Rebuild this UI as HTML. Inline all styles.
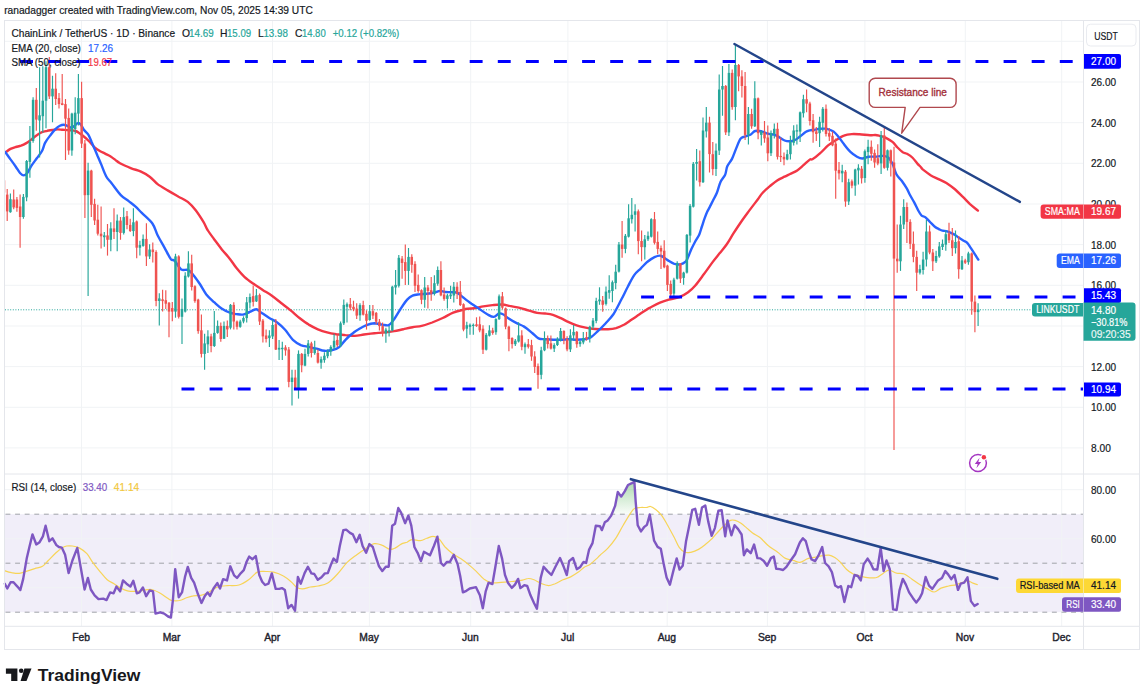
<!DOCTYPE html>
<html><head><meta charset="utf-8"><title>chart</title>
<style>
html,body{margin:0;padding:0;background:#fff}
body{width:1142px;height:699px;overflow:hidden;font-family:"Liberation Sans","DejaVu Sans",sans-serif}
svg{display:block}
</style></head><body>
<svg width="1142" height="699" viewBox="0 0 1142 699" font-family="'Liberation Sans', 'DejaVu Sans', sans-serif">
<defs><linearGradient id="ob" x1="0" y1="0" x2="0" y2="1"><stop offset="0" stop-color="#4caf50" stop-opacity="0.45"/><stop offset="1" stop-color="#4caf50" stop-opacity="0.03"/></linearGradient></defs>
<rect width="1142" height="699" fill="#fff"/>
<rect x="5" y="514.2" width="1078.5" height="98.0" fill="#f1eef9"/>
<path d="M5 447.9H1083.5" stroke="#f1f3f5" stroke-width="1"/>
<path d="M5 407.3H1083.5" stroke="#f1f3f5" stroke-width="1"/>
<path d="M5 366.6H1083.5" stroke="#f1f3f5" stroke-width="1"/>
<path d="M5 326.0H1083.5" stroke="#f1f3f5" stroke-width="1"/>
<path d="M5 285.3H1083.5" stroke="#f1f3f5" stroke-width="1"/>
<path d="M5 244.6H1083.5" stroke="#f1f3f5" stroke-width="1"/>
<path d="M5 204.0H1083.5" stroke="#f1f3f5" stroke-width="1"/>
<path d="M5 163.3H1083.5" stroke="#f1f3f5" stroke-width="1"/>
<path d="M5 122.7H1083.5" stroke="#f1f3f5" stroke-width="1"/>
<path d="M5 82.0H1083.5" stroke="#f1f3f5" stroke-width="1"/>
<path d="M5 41.3H1083.5" stroke="#f1f3f5" stroke-width="1"/>
<path d="M5 489.7H1083.5" stroke="#f1f3f5" stroke-width="1"/>
<path d="M5 538.7H1083.5" stroke="#f1f3f5" stroke-width="1"/>
<path d="M5 587.7H1083.5" stroke="#f1f3f5" stroke-width="1"/>
<path d="M81.5 21V626" stroke="#f1f3f5" stroke-width="1"/>
<path d="M171.9 21V626" stroke="#f1f3f5" stroke-width="1"/>
<path d="M272.5 21V626" stroke="#f1f3f5" stroke-width="1"/>
<path d="M369.4 21V626" stroke="#f1f3f5" stroke-width="1"/>
<path d="M470.7 21V626" stroke="#f1f3f5" stroke-width="1"/>
<path d="M567.9 21V626" stroke="#f1f3f5" stroke-width="1"/>
<path d="M667.2 21V626" stroke="#f1f3f5" stroke-width="1"/>
<path d="M767.4 21V626" stroke="#f1f3f5" stroke-width="1"/>
<path d="M864.9 21V626" stroke="#f1f3f5" stroke-width="1"/>
<path d="M965.3 21V626" stroke="#f1f3f5" stroke-width="1"/>
<path d="M1061.7 21V626" stroke="#f1f3f5" stroke-width="1"/>
<path d="M5.5 514.2H1083.5" stroke="#a0a2a8" stroke-width="1" stroke-dasharray="4.9 4.7"/>
<path d="M5.5 563.2H1083.5" stroke="#a0a2a8" stroke-width="1" stroke-dasharray="4.9 4.7"/>
<path d="M5.5 612.2H1083.5" stroke="#a0a2a8" stroke-width="1" stroke-dasharray="4.9 4.7"/>
<path d="M5 309.8H1032" stroke="#26a69a" stroke-width="1" stroke-dasharray="1 1.6"/>
<path d="M5.2 152.6C6.1 152.0 8.7 149.8 10.5 148.9C12.3 148.0 14.1 147.5 15.8 147.0C17.6 146.5 19.2 146.3 21.0 145.7C22.8 145.0 24.6 144.1 26.3 143.1C28.1 142.1 29.8 140.7 31.5 139.4C33.2 138.1 35.0 136.4 36.8 135.2C38.5 134.0 40.2 132.8 42.0 132.1C43.8 131.4 45.5 131.2 47.3 130.8C49.0 130.5 50.8 130.2 52.5 130.0C54.2 129.8 56.0 129.4 57.8 129.4C59.5 129.4 61.1 129.7 63.0 129.8C64.9 129.9 67.3 130.0 69.4 130.2C71.5 130.4 74.0 130.4 75.7 131.0C77.5 131.6 78.5 132.6 79.9 133.6C81.3 134.6 82.5 135.5 84.1 136.8C85.7 138.1 87.5 139.8 89.3 141.5C91.0 143.2 92.8 145.7 94.6 147.3C96.3 148.9 98.0 149.9 99.8 151.0C101.5 152.1 103.3 152.7 105.1 153.6C106.8 154.5 108.5 155.1 110.3 156.2C112.0 157.3 114.0 158.9 115.6 160.1C117.2 161.3 117.4 161.8 120.0 163.2C122.6 164.6 127.9 166.9 131.3 168.3C134.8 169.7 137.5 170.0 140.5 171.4C143.6 172.8 146.9 174.6 149.7 176.7C152.6 178.8 154.5 181.7 157.6 184.1C160.7 186.4 164.6 188.5 168.1 190.6C171.6 192.7 175.3 194.8 178.6 196.7C181.9 198.5 185.0 199.6 187.8 201.9C190.7 204.2 193.1 207.0 195.7 210.3C198.3 213.7 201.6 218.9 203.6 222.1C205.6 225.4 205.8 227.2 207.6 230.0C209.3 232.8 211.7 235.9 214.1 239.2C216.6 242.5 219.4 246.4 222.0 249.7C224.7 253.0 227.5 255.8 229.9 258.9C232.3 262.0 234.1 265.1 236.5 268.1C238.9 271.1 241.5 274.1 244.4 276.8C247.2 279.4 250.5 281.7 253.5 283.8C256.6 286.0 259.7 287.9 262.7 289.9C265.8 291.9 268.9 293.5 271.9 295.7C275.0 297.9 278.1 300.6 281.1 303.0C284.2 305.4 287.3 307.6 290.3 310.1C293.4 312.6 296.5 315.6 299.5 318.0C302.6 320.4 305.6 322.7 308.7 324.6C311.8 326.4 314.8 328.0 317.9 329.3C321.0 330.6 324.0 331.6 327.1 332.4C330.2 333.3 333.2 333.8 336.3 334.3C339.4 334.7 342.4 334.8 345.5 335.1C348.5 335.3 351.6 335.9 354.7 335.9C357.7 335.8 360.6 335.0 363.9 334.5C367.2 334.1 370.9 333.6 374.4 333.2C377.9 332.9 381.6 332.8 384.9 332.4C388.2 332.1 391.0 331.7 394.1 331.1C397.1 330.6 400.2 329.9 403.3 329.3C406.3 328.6 409.4 327.8 412.5 327.2C415.5 326.6 418.4 326.7 421.7 325.9C424.9 325.1 428.7 323.8 432.2 322.5C435.7 321.1 439.2 319.6 442.7 318.0C446.2 316.4 449.7 314.1 453.2 312.7C456.7 311.3 461.7 310.2 463.7 309.6C465.7 309.0 463.2 309.2 465.0 309.0C466.7 308.8 471.1 308.7 474.1 308.2C477.2 307.8 480.3 306.9 483.3 306.4C486.4 305.9 489.5 305.4 492.5 305.1C495.6 304.8 498.9 304.4 501.7 304.5C504.6 304.7 506.8 305.3 509.6 305.9C512.5 306.4 515.7 307.0 518.8 307.7C521.9 308.4 524.9 309.4 528.0 310.3C531.1 311.2 534.3 312.4 537.2 312.9C540.0 313.5 542.4 313.2 545.1 313.5C547.7 313.8 550.3 314.0 552.9 314.8C555.6 315.6 558.2 317.0 560.8 318.2C563.5 319.4 566.1 321.0 568.7 322.1C571.3 323.3 574.0 324.4 576.6 325.3C579.2 326.2 581.8 326.8 584.5 327.4C587.1 328.0 589.7 328.4 592.4 328.7C595.0 329.0 597.6 329.1 600.2 329.2C602.9 329.3 605.5 329.4 608.1 329.2C610.7 329.1 613.4 328.9 616.0 328.2C618.6 327.4 621.2 326.2 623.9 324.8C626.5 323.3 629.1 321.3 631.8 319.5C634.4 317.8 637.0 316.0 639.6 314.3C642.3 312.5 645.6 310.2 647.5 309.0C649.5 307.8 649.2 308.1 651.3 307.0C653.4 305.9 657.1 303.9 660.0 302.7C662.9 301.5 665.6 300.6 668.8 299.7C672.0 298.8 676.1 298.4 679.3 297.1C682.5 295.9 685.5 294.1 688.1 292.2C690.7 290.3 692.5 288.7 695.1 285.7C697.7 282.7 700.9 278.2 703.8 274.3C706.7 270.4 710.0 265.6 712.6 262.1C715.2 258.6 717.3 256.2 719.6 253.3C721.9 250.4 724.3 247.8 726.6 244.5C728.9 241.2 731.0 237.3 733.6 233.2C736.2 229.1 739.8 223.8 742.4 220.0C745.0 216.2 746.8 213.9 749.4 210.4C752.0 206.9 755.9 201.9 758.1 199.0C760.3 196.1 760.5 195.1 762.5 193.0C764.5 190.9 767.4 188.3 769.9 186.2C772.4 184.1 774.8 182.0 777.2 180.4C779.7 178.8 782.3 177.8 784.6 176.7C786.9 175.6 788.8 174.6 790.9 173.6C793.0 172.6 795.1 171.8 797.2 170.4C799.3 169.0 801.4 167.0 803.5 165.2C805.6 163.4 808.5 160.4 810.0 159.4C811.5 158.4 810.6 160.3 812.4 159.3C814.1 158.3 817.6 155.6 820.2 153.2C822.9 150.9 825.5 147.6 828.1 145.4C830.7 143.2 833.4 141.7 836.0 140.1C838.6 138.5 841.2 136.7 843.9 135.7C846.5 134.6 849.1 134.3 851.8 134.1C854.4 133.9 856.6 134.1 859.6 134.3C862.7 134.5 867.4 135.2 870.0 135.3C872.6 135.4 873.7 134.9 875.3 135.0C876.9 135.1 878.3 135.5 879.5 135.8C880.7 136.1 881.6 136.2 882.7 136.6C883.8 136.9 884.2 137.0 885.9 137.9C887.6 138.8 890.9 140.6 892.8 142.2C894.7 143.8 895.8 145.8 897.5 147.5C899.2 149.2 901.2 151.1 902.8 152.2C904.4 153.2 905.4 152.9 907.0 153.8C908.6 154.7 910.5 155.8 912.3 157.5C914.1 159.2 916.3 162.4 917.6 163.9C918.9 165.4 919.4 165.6 920.3 166.5C921.2 167.4 921.0 167.9 922.7 169.4C924.5 170.8 928.0 173.5 930.6 175.2C933.2 176.8 935.9 177.8 938.5 179.1C941.1 180.4 943.8 181.4 946.4 183.0C949.0 184.7 951.6 186.6 954.3 188.8C956.9 191.0 959.5 193.6 962.1 196.2C964.8 198.7 967.4 201.6 970.0 204.1C972.7 206.5 976.6 209.5 977.9 210.6" fill="none" stroke="#f23645" stroke-width="2.4" stroke-linejoin="round" stroke-linecap="round"/>
<path d="M5.2 152.0C6.1 153.2 8.7 157.0 10.5 159.4C12.3 161.8 14.2 164.4 15.8 166.7C17.4 169.0 18.7 171.6 20.0 173.0C21.3 174.4 22.4 175.4 23.6 175.4C24.8 175.4 26.0 174.6 27.3 173.0C28.6 171.4 29.9 168.1 31.5 165.7C33.1 163.2 35.0 160.8 36.8 158.3C38.5 155.9 40.6 153.6 42.0 151.0C43.4 148.4 43.8 145.2 45.2 142.6C46.6 140.0 48.6 137.5 50.4 135.2C52.1 132.9 54.1 130.5 55.7 128.9C57.3 127.3 58.6 126.5 59.9 125.8C61.2 125.1 62.4 124.7 63.6 124.7C64.8 124.7 65.9 125.3 67.2 125.8C68.5 126.3 70.3 127.7 71.5 127.7C72.7 127.7 73.5 126.6 74.6 125.8C75.6 125.0 76.8 123.3 77.8 123.1C78.8 122.9 79.9 123.5 80.9 124.7C82.0 125.9 82.9 128.3 84.1 130.0C85.3 131.7 87.1 132.8 88.3 134.7C89.5 136.6 90.4 139.1 91.4 141.5C92.5 143.9 93.5 146.5 94.6 148.9C95.6 151.3 96.7 153.8 97.7 156.2C98.8 158.6 99.5 160.3 100.9 163.6C102.3 166.9 104.3 173.0 106.1 176.2C107.8 179.4 108.9 179.9 111.4 183.0C113.9 186.1 117.9 192.1 120.8 195.1C123.7 198.1 126.3 199.2 128.7 201.1C131.1 203.0 133.1 204.4 135.3 206.4C137.5 208.4 139.0 210.1 141.8 212.9C144.7 215.8 149.7 219.7 152.4 223.5C155.0 227.2 155.6 231.3 157.6 235.3C159.6 239.2 162.0 243.2 164.2 247.1C166.4 251.0 169.0 256.6 170.7 258.9C172.5 261.2 172.9 259.0 174.7 260.8C176.4 262.5 179.0 267.9 181.2 269.4C183.4 271.0 185.9 269.1 187.9 269.9C189.9 270.8 191.2 272.3 193.1 274.7C195.1 277.0 197.5 280.6 199.7 283.8C201.9 287.1 203.9 291.3 206.3 294.4C208.7 297.4 211.5 299.8 214.1 302.2C216.8 304.6 219.4 307.1 222.0 308.8C224.7 310.6 227.5 311.9 229.9 312.7C232.3 313.6 234.3 313.7 236.5 314.1C238.7 314.4 240.9 314.9 243.0 314.6C245.2 314.2 247.4 312.8 249.6 312.0C251.8 311.1 254.2 309.2 256.2 309.3C258.1 309.5 259.2 311.3 261.4 312.7C263.6 314.2 266.7 316.4 269.3 318.0C271.9 319.6 274.6 320.5 277.2 322.5C279.8 324.4 282.4 326.9 285.1 329.8C287.7 332.7 290.3 337.3 292.9 339.8C295.6 342.3 298.2 343.9 300.8 345.1C303.5 346.2 306.1 346.3 308.7 346.9C311.3 347.5 314.0 348.1 316.6 348.7C319.2 349.4 321.8 350.6 324.5 350.8C327.1 351.0 329.9 350.6 332.4 350.0C334.8 349.5 336.7 349.1 338.9 347.4C341.1 345.7 343.3 342.1 345.5 339.8C347.7 337.5 349.9 335.5 352.1 333.8C354.2 332.0 356.2 330.7 358.6 329.3C361.0 327.8 363.9 326.1 366.5 325.1C369.1 324.1 371.8 323.3 374.4 323.2C377.0 323.2 379.9 324.3 382.3 324.6C384.7 324.9 386.9 326.0 388.8 325.1C390.8 324.2 392.1 322.0 394.1 319.3C396.0 316.6 398.5 312.1 400.6 308.8C402.8 305.5 405.2 301.8 407.2 299.6C409.2 297.4 410.5 296.5 412.5 295.7C414.4 294.8 416.6 294.7 419.0 294.4C421.4 294.0 424.3 294.1 426.9 293.8C429.5 293.5 432.6 293.0 434.8 292.5C437.0 292.0 438.3 291.0 440.0 290.9C441.8 290.9 443.3 291.8 445.3 292.0C447.3 292.2 449.9 292.1 451.9 292.3C453.8 292.4 455.1 291.8 457.1 292.7C459.0 293.6 461.2 295.9 463.6 297.7C466.0 299.6 468.9 301.9 471.5 303.8C474.1 305.6 476.8 307.3 479.4 309.0C482.0 310.8 484.9 312.9 487.3 314.3C489.7 315.6 491.9 317.0 493.8 316.9C495.8 316.8 497.6 313.9 499.1 313.5C500.6 313.0 501.5 313.5 503.0 314.3C504.6 315.1 506.1 316.8 508.3 318.2C510.5 319.6 513.5 321.5 516.2 322.9C518.8 324.3 521.4 325.0 524.1 326.6C526.7 328.2 529.5 330.7 531.9 332.7C534.3 334.6 536.3 337.3 538.5 338.4C540.7 339.5 542.7 339.0 545.1 339.2C547.5 339.4 550.3 339.7 552.9 339.7C555.6 339.8 558.2 339.8 560.8 339.7C563.5 339.7 566.1 339.2 568.7 339.2C571.3 339.2 574.0 339.7 576.6 339.7C579.2 339.7 582.1 339.7 584.5 339.2C586.9 338.8 588.8 338.4 591.0 337.1C593.2 335.8 595.2 333.6 597.6 331.3C600.0 329.1 602.9 326.3 605.5 323.5C608.1 320.6 610.7 318.2 613.4 314.3C616.0 310.3 618.8 304.4 621.2 299.8C623.7 295.2 625.6 290.8 627.8 286.7C630.0 282.5 632.2 277.9 634.4 274.9C636.6 271.8 638.8 270.5 640.9 268.3C643.1 266.1 645.3 263.6 647.5 261.7C649.7 259.9 651.9 258.3 654.1 257.3C656.3 256.3 658.5 255.2 660.6 255.7C662.8 256.1 665.0 258.6 667.2 259.9C669.4 261.2 671.6 262.8 673.8 263.6C676.0 264.3 678.4 264.7 680.3 264.4C682.3 264.0 684.4 262.8 685.6 261.7C686.8 260.7 686.7 260.1 687.7 258.0C688.7 255.9 690.2 251.8 691.4 249.1C692.6 246.4 693.8 244.1 695.1 241.7C696.4 239.2 698.2 236.9 699.3 234.4C700.4 231.9 701.0 229.1 701.9 226.5C702.8 223.9 703.6 221.0 704.5 218.6C705.4 216.2 706.3 213.8 707.2 211.8C708.1 209.8 709.0 208.6 710.0 206.5C711.0 204.4 712.4 201.8 713.5 199.5C714.6 197.2 715.6 195.9 716.8 193.0C718.0 190.1 719.1 185.1 720.5 182.0C721.9 178.9 724.1 177.2 725.2 174.6C726.3 172.0 726.2 168.8 727.3 166.2C728.4 163.6 730.5 161.9 732.0 158.9C733.5 155.9 734.8 151.7 736.2 148.4C737.6 145.1 739.0 140.9 740.4 138.9C741.8 136.9 742.9 137.3 744.6 136.6C746.3 135.9 748.6 135.6 750.4 134.7C752.1 133.8 753.2 131.6 755.1 131.0C757.0 130.4 759.4 130.9 761.5 131.3C763.6 131.8 765.7 133.1 767.8 133.7C769.9 134.3 772.2 134.1 774.1 134.7C776.0 135.3 777.5 136.3 779.3 137.3C781.0 138.3 782.9 139.8 784.6 140.5C786.4 141.2 788.0 141.4 789.8 141.3C791.5 141.2 793.4 140.8 795.1 140.0C796.9 139.2 798.5 137.6 800.3 136.3C802.0 135.0 804.0 133.1 805.6 132.1C807.2 131.1 808.7 130.7 810.0 130.3C811.3 129.9 812.0 130.1 813.7 129.9C815.4 129.6 818.0 129.0 820.2 128.8C822.4 128.6 824.6 128.4 826.8 128.8C829.0 129.3 831.4 130.1 833.4 131.4C835.3 132.8 836.9 134.9 838.6 137.0C840.4 139.1 841.9 141.6 843.9 144.1C845.8 146.6 848.2 149.8 850.4 151.9C852.6 154.0 855.0 155.6 857.0 156.7C859.0 157.8 860.3 158.5 862.3 158.5C864.2 158.5 866.6 157.0 868.8 156.7C871.0 156.4 873.0 156.8 875.4 156.7C877.8 156.5 881.1 155.7 883.3 155.9C885.5 156.1 887.0 156.4 888.5 157.7C890.1 159.0 891.2 161.0 892.5 163.8C893.8 166.5 894.9 171.4 896.4 174.3C897.9 177.1 899.9 178.4 901.7 180.8C903.4 183.2 905.5 186.3 906.9 188.7C908.3 191.1 908.7 192.7 910.0 195.0C911.2 197.3 912.8 199.8 914.2 202.4C915.6 205.0 917.2 208.6 918.4 210.8C919.6 213.0 920.4 214.4 921.5 215.5C922.6 216.6 923.8 216.0 925.2 217.1C926.6 218.2 928.2 220.2 929.9 221.8C931.6 223.5 933.7 225.8 935.2 227.0C936.7 228.2 937.7 228.5 938.9 229.1C940.1 229.7 941.1 230.3 942.5 230.7C943.9 231.1 945.4 230.7 947.3 231.3C949.2 231.9 952.1 233.3 954.1 234.4C956.1 235.5 957.8 237.1 959.4 238.1C961.0 239.1 962.3 239.9 963.6 240.7C964.9 241.5 966.0 241.6 967.2 242.8C968.4 244.0 969.7 246.3 970.9 248.1C972.1 249.9 973.4 251.9 974.6 253.8C975.8 255.7 977.7 258.6 978.3 259.6" fill="none" stroke="#2962ff" stroke-width="2.4" stroke-linejoin="round" stroke-linecap="round"/>
<clipPath id="plot"><rect x="5" y="21" width="1078.5" height="605"/></clipPath>
<g id="c" clip-path="url(#plot)">
<path d="M4.0 175.9V195.2" stroke="#ef5350" stroke-width="1.15"/>
<rect x="2.71" y="180.3" width="2.5" height="12.3" fill="#ef5350"/>
<path d="M7.2 189.0V220.9" stroke="#ef5350" stroke-width="1.15"/>
<rect x="5.95" y="194.6" width="2.5" height="16.8" fill="#ef5350"/>
<path d="M10.4 193.4V212.7" stroke="#26a69a" stroke-width="1.15"/>
<rect x="9.19" y="199.2" width="2.5" height="13.0" fill="#26a69a"/>
<path d="M13.7 189.6V209.2" stroke="#ef5350" stroke-width="1.15"/>
<rect x="12.42" y="199.5" width="2.5" height="7.9" fill="#ef5350"/>
<path d="M16.9 196.9V211.8" stroke="#ef5350" stroke-width="1.15"/>
<rect x="15.66" y="199.5" width="2.5" height="8.4" fill="#ef5350"/>
<path d="M20.1 194.6V247.7" stroke="#ef5350" stroke-width="1.15"/>
<rect x="18.90" y="206.5" width="2.5" height="10.5" fill="#ef5350"/>
<path d="M23.4 193.9V218.8" stroke="#26a69a" stroke-width="1.15"/>
<rect x="22.13" y="196.9" width="2.5" height="20.1" fill="#26a69a"/>
<path d="M26.6 160.1V201.3" stroke="#26a69a" stroke-width="1.15"/>
<rect x="25.37" y="161.0" width="2.5" height="36.4" fill="#26a69a"/>
<path d="M29.9 126.0V177.7" stroke="#26a69a" stroke-width="1.15"/>
<rect x="28.61" y="141.8" width="2.5" height="20.1" fill="#26a69a"/>
<path d="M33.1 97.3V142.8" stroke="#26a69a" stroke-width="1.15"/>
<rect x="31.84" y="99.8" width="2.5" height="41.2" fill="#26a69a"/>
<path d="M36.3 88.1V130.8" stroke="#ef5350" stroke-width="1.15"/>
<rect x="35.08" y="99.8" width="2.5" height="19.8" fill="#ef5350"/>
<path d="M39.6 67.2V157.4" stroke="#26a69a" stroke-width="1.15"/>
<rect x="38.32" y="115.3" width="2.5" height="5.2" fill="#26a69a"/>
<path d="M42.8 66.3V132.5" stroke="#26a69a" stroke-width="1.15"/>
<rect x="41.55" y="100.7" width="2.5" height="15.5" fill="#26a69a"/>
<path d="M46.0 61.2V128.2" stroke="#26a69a" stroke-width="1.15"/>
<rect x="44.79" y="67.2" width="2.5" height="33.5" fill="#26a69a"/>
<path d="M49.3 56.9V99.0" stroke="#ef5350" stroke-width="1.15"/>
<rect x="48.02" y="67.2" width="2.5" height="29.2" fill="#ef5350"/>
<path d="M52.5 75.8V122.2" stroke="#26a69a" stroke-width="1.15"/>
<rect x="51.26" y="88.7" width="2.5" height="7.7" fill="#26a69a"/>
<path d="M55.7 73.2V105.0" stroke="#ef5350" stroke-width="1.15"/>
<rect x="54.50" y="88.7" width="2.5" height="10.3" fill="#ef5350"/>
<path d="M59.0 93.0V108.4" stroke="#ef5350" stroke-width="1.15"/>
<rect x="57.73" y="98.1" width="2.5" height="6.0" fill="#ef5350"/>
<path d="M62.2 74.1V105.3" stroke="#ef5350" stroke-width="1.15"/>
<rect x="60.97" y="103.3" width="2.5" height="1.7" fill="#ef5350"/>
<path d="M65.5 99.0V160.0" stroke="#ef5350" stroke-width="1.15"/>
<rect x="64.21" y="104.1" width="2.5" height="14.6" fill="#ef5350"/>
<path d="M68.7 108.4V154.8" stroke="#ef5350" stroke-width="1.15"/>
<rect x="67.44" y="117.9" width="2.5" height="32.6" fill="#ef5350"/>
<path d="M71.9 112.7V155.7" stroke="#26a69a" stroke-width="1.15"/>
<rect x="70.68" y="113.6" width="2.5" height="36.9" fill="#26a69a"/>
<path d="M75.2 97.3V134.2" stroke="#26a69a" stroke-width="1.15"/>
<rect x="73.92" y="112.7" width="2.5" height="16.3" fill="#26a69a"/>
<path d="M78.4 74.1V125.6" stroke="#26a69a" stroke-width="1.15"/>
<rect x="77.15" y="98.1" width="2.5" height="15.5" fill="#26a69a"/>
<path d="M81.6 81.8V147.9" stroke="#ef5350" stroke-width="1.15"/>
<rect x="80.39" y="98.1" width="2.5" height="45.5" fill="#ef5350"/>
<path d="M84.9 140.0V217.9" stroke="#ef5350" stroke-width="1.15"/>
<rect x="83.63" y="143.5" width="2.5" height="51.7" fill="#ef5350"/>
<path d="M88.1 162.8V295.9" stroke="#26a69a" stroke-width="1.15"/>
<rect x="86.86" y="170.6" width="2.5" height="24.5" fill="#26a69a"/>
<path d="M91.3 169.8V217.1" stroke="#ef5350" stroke-width="1.15"/>
<rect x="90.10" y="170.6" width="2.5" height="34.2" fill="#ef5350"/>
<path d="M94.6 198.7V224.9" stroke="#ef5350" stroke-width="1.15"/>
<rect x="93.34" y="203.9" width="2.5" height="16.6" fill="#ef5350"/>
<path d="M97.8 204.8V235.4" stroke="#ef5350" stroke-width="1.15"/>
<rect x="96.57" y="219.7" width="2.5" height="14.0" fill="#ef5350"/>
<path d="M101.1 206.5V248.6" stroke="#ef5350" stroke-width="1.15"/>
<rect x="99.81" y="233.7" width="2.5" height="2.6" fill="#ef5350"/>
<path d="M104.3 231.9V246.8" stroke="#26a69a" stroke-width="1.15"/>
<rect x="103.05" y="235.4" width="2.5" height="1.8" fill="#26a69a"/>
<path d="M107.5 224.1V255.6" stroke="#ef5350" stroke-width="1.15"/>
<rect x="106.28" y="235.4" width="2.5" height="4.4" fill="#ef5350"/>
<path d="M110.8 222.3V251.2" stroke="#26a69a" stroke-width="1.15"/>
<rect x="109.52" y="228.4" width="2.5" height="11.4" fill="#26a69a"/>
<path d="M114.0 208.3V238.9" stroke="#ef5350" stroke-width="1.15"/>
<rect x="112.75" y="228.4" width="2.5" height="3.5" fill="#ef5350"/>
<path d="M117.2 214.4V251.2" stroke="#26a69a" stroke-width="1.15"/>
<rect x="115.99" y="220.6" width="2.5" height="11.4" fill="#26a69a"/>
<path d="M120.5 217.1V239.8" stroke="#ef5350" stroke-width="1.15"/>
<rect x="119.23" y="220.6" width="2.5" height="12.3" fill="#ef5350"/>
<path d="M123.7 207.4V234.6" stroke="#26a69a" stroke-width="1.15"/>
<rect x="122.46" y="217.1" width="2.5" height="15.8" fill="#26a69a"/>
<path d="M127.0 210.9V229.3" stroke="#ef5350" stroke-width="1.15"/>
<rect x="125.70" y="216.2" width="2.5" height="8.8" fill="#ef5350"/>
<path d="M130.2 218.8V231.9" stroke="#ef5350" stroke-width="1.15"/>
<rect x="128.94" y="224.9" width="2.5" height="6.1" fill="#ef5350"/>
<path d="M133.4 208.3V236.3" stroke="#26a69a" stroke-width="1.15"/>
<rect x="132.17" y="222.3" width="2.5" height="8.8" fill="#26a69a"/>
<path d="M136.7 220.6V258.2" stroke="#ef5350" stroke-width="1.15"/>
<rect x="135.41" y="221.4" width="2.5" height="26.3" fill="#ef5350"/>
<path d="M139.9 240.7V255.6" stroke="#26a69a" stroke-width="1.15"/>
<rect x="138.65" y="245.1" width="2.5" height="2.6" fill="#26a69a"/>
<path d="M143.1 234.6V246.8" stroke="#26a69a" stroke-width="1.15"/>
<rect x="141.88" y="238.9" width="2.5" height="7.0" fill="#26a69a"/>
<path d="M146.4 223.2V266.1" stroke="#ef5350" stroke-width="1.15"/>
<rect x="145.12" y="238.9" width="2.5" height="17.5" fill="#ef5350"/>
<path d="M149.6 244.2V259.1" stroke="#26a69a" stroke-width="1.15"/>
<rect x="148.36" y="249.5" width="2.5" height="7.0" fill="#26a69a"/>
<path d="M152.8 242.5V262.6" stroke="#ef5350" stroke-width="1.15"/>
<rect x="151.59" y="249.5" width="2.5" height="2.6" fill="#ef5350"/>
<path d="M156.1 250.3V306.3" stroke="#ef5350" stroke-width="1.15"/>
<rect x="154.83" y="252.0" width="2.5" height="49.0" fill="#ef5350"/>
<path d="M159.3 293.2V325.6" stroke="#26a69a" stroke-width="1.15"/>
<rect x="158.07" y="298.4" width="2.5" height="2.6" fill="#26a69a"/>
<path d="M162.6 289.7V311.6" stroke="#ef5350" stroke-width="1.15"/>
<rect x="161.30" y="299.3" width="2.5" height="1.8" fill="#ef5350"/>
<path d="M165.8 290.2V308.9" stroke="#ef5350" stroke-width="1.15"/>
<rect x="164.54" y="300.2" width="2.5" height="3.5" fill="#ef5350"/>
<path d="M169.0 301.9V337.3" stroke="#ef5350" stroke-width="1.15"/>
<rect x="167.77" y="302.8" width="2.5" height="8.8" fill="#ef5350"/>
<path d="M172.3 301.9V321.2" stroke="#ef5350" stroke-width="1.15"/>
<rect x="171.01" y="308.1" width="2.5" height="3.5" fill="#ef5350"/>
<path d="M175.5 253.8V317.7" stroke="#26a69a" stroke-width="1.15"/>
<rect x="174.25" y="256.4" width="2.5" height="55.2" fill="#26a69a"/>
<path d="M178.7 255.2V318.6" stroke="#ef5350" stroke-width="1.15"/>
<rect x="177.48" y="256.4" width="2.5" height="60.4" fill="#ef5350"/>
<path d="M182.0 298.4V344.0" stroke="#26a69a" stroke-width="1.15"/>
<rect x="180.72" y="308.9" width="2.5" height="7.9" fill="#26a69a"/>
<path d="M185.2 272.2V312.5" stroke="#26a69a" stroke-width="1.15"/>
<rect x="183.96" y="275.7" width="2.5" height="35.9" fill="#26a69a"/>
<path d="M188.4 251.2V277.4" stroke="#26a69a" stroke-width="1.15"/>
<rect x="187.19" y="263.4" width="2.5" height="13.1" fill="#26a69a"/>
<path d="M191.7 254.7V290.6" stroke="#ef5350" stroke-width="1.15"/>
<rect x="190.43" y="263.4" width="2.5" height="23.6" fill="#ef5350"/>
<path d="M194.9 285.3V302.8" stroke="#ef5350" stroke-width="1.15"/>
<rect x="193.67" y="286.2" width="2.5" height="14.9" fill="#ef5350"/>
<path d="M198.2 298.8V333.8" stroke="#ef5350" stroke-width="1.15"/>
<rect x="196.90" y="299.6" width="2.5" height="31.5" fill="#ef5350"/>
<path d="M201.4 314.5V357.4" stroke="#ef5350" stroke-width="1.15"/>
<rect x="200.14" y="330.3" width="2.5" height="23.6" fill="#ef5350"/>
<path d="M204.6 333.8V369.7" stroke="#26a69a" stroke-width="1.15"/>
<rect x="203.38" y="343.4" width="2.5" height="10.5" fill="#26a69a"/>
<path d="M207.9 330.3V353.0" stroke="#26a69a" stroke-width="1.15"/>
<rect x="206.61" y="336.4" width="2.5" height="7.9" fill="#26a69a"/>
<path d="M211.1 333.8V352.2" stroke="#ef5350" stroke-width="1.15"/>
<rect x="209.85" y="336.4" width="2.5" height="9.6" fill="#ef5350"/>
<path d="M214.3 311.0V346.9" stroke="#26a69a" stroke-width="1.15"/>
<rect x="213.09" y="332.9" width="2.5" height="13.1" fill="#26a69a"/>
<path d="M217.6 320.6V333.8" stroke="#26a69a" stroke-width="1.15"/>
<rect x="216.32" y="325.9" width="2.5" height="7.0" fill="#26a69a"/>
<path d="M220.8 322.4V341.7" stroke="#ef5350" stroke-width="1.15"/>
<rect x="219.56" y="325.9" width="2.5" height="13.1" fill="#ef5350"/>
<path d="M224.0 321.5V339.0" stroke="#26a69a" stroke-width="1.15"/>
<rect x="222.80" y="325.9" width="2.5" height="12.8" fill="#26a69a"/>
<path d="M227.3 320.6V336.9" stroke="#ef5350" stroke-width="1.15"/>
<rect x="226.03" y="325.9" width="2.5" height="3.5" fill="#ef5350"/>
<path d="M230.5 304.0V329.4" stroke="#26a69a" stroke-width="1.15"/>
<rect x="229.27" y="304.9" width="2.5" height="22.8" fill="#26a69a"/>
<path d="M233.8 302.3V329.4" stroke="#ef5350" stroke-width="1.15"/>
<rect x="232.50" y="304.9" width="2.5" height="16.6" fill="#ef5350"/>
<path d="M237.0 320.6V329.4" stroke="#ef5350" stroke-width="1.15"/>
<rect x="235.74" y="321.5" width="2.5" height="5.3" fill="#ef5350"/>
<path d="M240.2 319.8V327.7" stroke="#26a69a" stroke-width="1.15"/>
<rect x="238.98" y="321.5" width="2.5" height="5.3" fill="#26a69a"/>
<path d="M243.5 316.3V323.3" stroke="#26a69a" stroke-width="1.15"/>
<rect x="242.21" y="318.0" width="2.5" height="3.5" fill="#26a69a"/>
<path d="M246.7 297.0V322.4" stroke="#26a69a" stroke-width="1.15"/>
<rect x="245.45" y="302.3" width="2.5" height="15.8" fill="#26a69a"/>
<path d="M249.9 293.5V308.4" stroke="#26a69a" stroke-width="1.15"/>
<rect x="248.69" y="297.0" width="2.5" height="5.6" fill="#26a69a"/>
<path d="M253.2 285.6V306.6" stroke="#ef5350" stroke-width="1.15"/>
<rect x="251.92" y="296.1" width="2.5" height="5.8" fill="#ef5350"/>
<path d="M256.4 289.1V301.9" stroke="#26a69a" stroke-width="1.15"/>
<rect x="255.16" y="295.3" width="2.5" height="6.1" fill="#26a69a"/>
<path d="M259.6 293.5V325.0" stroke="#ef5350" stroke-width="1.15"/>
<rect x="258.40" y="294.9" width="2.5" height="26.6" fill="#ef5350"/>
<path d="M262.9 318.9V342.5" stroke="#ef5350" stroke-width="1.15"/>
<rect x="261.63" y="320.6" width="2.5" height="15.8" fill="#ef5350"/>
<path d="M266.1 329.4V342.5" stroke="#ef5350" stroke-width="1.15"/>
<rect x="264.87" y="335.5" width="2.5" height="3.5" fill="#ef5350"/>
<path d="M269.4 330.3V346.9" stroke="#26a69a" stroke-width="1.15"/>
<rect x="268.11" y="335.5" width="2.5" height="2.6" fill="#26a69a"/>
<path d="M272.6 319.8V339.0" stroke="#26a69a" stroke-width="1.15"/>
<rect x="271.34" y="325.0" width="2.5" height="11.4" fill="#26a69a"/>
<path d="M275.8 318.9V349.9" stroke="#ef5350" stroke-width="1.15"/>
<rect x="274.58" y="324.2" width="2.5" height="25.4" fill="#ef5350"/>
<path d="M279.1 339.9V360.1" stroke="#26a69a" stroke-width="1.15"/>
<rect x="277.82" y="347.8" width="2.5" height="1.8" fill="#26a69a"/>
<path d="M282.3 341.7V360.1" stroke="#26a69a" stroke-width="1.15"/>
<rect x="281.05" y="347.8" width="2.5" height="1.4" fill="#26a69a"/>
<path d="M285.5 345.2V355.7" stroke="#ef5350" stroke-width="1.15"/>
<rect x="284.29" y="347.4" width="2.5" height="3.0" fill="#ef5350"/>
<path d="M288.8 346.9V387.2" stroke="#ef5350" stroke-width="1.15"/>
<rect x="287.53" y="349.5" width="2.5" height="32.4" fill="#ef5350"/>
<path d="M292.0 369.7V405.6" stroke="#26a69a" stroke-width="1.15"/>
<rect x="290.76" y="377.6" width="2.5" height="4.4" fill="#26a69a"/>
<path d="M295.2 369.7V389.8" stroke="#ef5350" stroke-width="1.15"/>
<rect x="294.00" y="377.6" width="2.5" height="11.4" fill="#ef5350"/>
<path d="M298.5 350.4V398.6" stroke="#26a69a" stroke-width="1.15"/>
<rect x="297.23" y="353.9" width="2.5" height="35.0" fill="#26a69a"/>
<path d="M301.7 353.0V372.3" stroke="#ef5350" stroke-width="1.15"/>
<rect x="300.47" y="353.9" width="2.5" height="11.4" fill="#ef5350"/>
<path d="M305.0 348.7V366.2" stroke="#26a69a" stroke-width="1.15"/>
<rect x="303.71" y="353.9" width="2.5" height="11.7" fill="#26a69a"/>
<path d="M308.2 339.9V356.5" stroke="#26a69a" stroke-width="1.15"/>
<rect x="306.94" y="343.4" width="2.5" height="10.5" fill="#26a69a"/>
<path d="M311.4 341.7V357.4" stroke="#ef5350" stroke-width="1.15"/>
<rect x="310.18" y="343.4" width="2.5" height="9.6" fill="#ef5350"/>
<path d="M314.7 340.8V354.8" stroke="#26a69a" stroke-width="1.15"/>
<rect x="313.42" y="348.7" width="2.5" height="4.4" fill="#26a69a"/>
<path d="M317.9 349.5V363.6" stroke="#ef5350" stroke-width="1.15"/>
<rect x="316.65" y="353.0" width="2.5" height="9.6" fill="#ef5350"/>
<path d="M321.1 356.5V368.8" stroke="#26a69a" stroke-width="1.15"/>
<rect x="319.89" y="359.2" width="2.5" height="3.5" fill="#26a69a"/>
<path d="M324.4 352.2V362.7" stroke="#26a69a" stroke-width="1.15"/>
<rect x="323.13" y="355.7" width="2.5" height="4.4" fill="#26a69a"/>
<path d="M327.6 349.5V358.3" stroke="#26a69a" stroke-width="1.15"/>
<rect x="326.36" y="351.3" width="2.5" height="4.9" fill="#26a69a"/>
<path d="M330.8 345.2V355.7" stroke="#26a69a" stroke-width="1.15"/>
<rect x="329.60" y="346.9" width="2.5" height="4.4" fill="#26a69a"/>
<path d="M334.1 333.8V349.5" stroke="#26a69a" stroke-width="1.15"/>
<rect x="332.84" y="340.8" width="2.5" height="6.7" fill="#26a69a"/>
<path d="M337.3 334.7V346.9" stroke="#ef5350" stroke-width="1.15"/>
<rect x="336.07" y="339.9" width="2.5" height="5.3" fill="#ef5350"/>
<path d="M340.6 321.5V346.9" stroke="#26a69a" stroke-width="1.15"/>
<rect x="339.31" y="323.3" width="2.5" height="21.9" fill="#26a69a"/>
<path d="M343.8 299.6V325.0" stroke="#26a69a" stroke-width="1.15"/>
<rect x="342.55" y="304.9" width="2.5" height="18.4" fill="#26a69a"/>
<path d="M347.0 302.4V322.6" stroke="#26a69a" stroke-width="1.15"/>
<rect x="345.78" y="304.2" width="2.5" height="2.6" fill="#26a69a"/>
<path d="M350.3 298.0V310.3" stroke="#ef5350" stroke-width="1.15"/>
<rect x="349.02" y="304.2" width="2.5" height="3.5" fill="#ef5350"/>
<path d="M353.5 300.7V311.2" stroke="#ef5350" stroke-width="1.15"/>
<rect x="352.26" y="306.8" width="2.5" height="2.6" fill="#ef5350"/>
<path d="M356.7 303.3V319.1" stroke="#ef5350" stroke-width="1.15"/>
<rect x="355.49" y="308.6" width="2.5" height="7.0" fill="#ef5350"/>
<path d="M360.0 303.3V320.8" stroke="#26a69a" stroke-width="1.15"/>
<rect x="358.73" y="305.1" width="2.5" height="10.2" fill="#26a69a"/>
<path d="M363.2 300.7V315.6" stroke="#ef5350" stroke-width="1.15"/>
<rect x="361.96" y="305.1" width="2.5" height="9.6" fill="#ef5350"/>
<path d="M366.5 310.3V329.6" stroke="#ef5350" stroke-width="1.15"/>
<rect x="365.20" y="313.8" width="2.5" height="7.0" fill="#ef5350"/>
<path d="M369.7 305.1V320.8" stroke="#26a69a" stroke-width="1.15"/>
<rect x="368.44" y="311.2" width="2.5" height="8.8" fill="#26a69a"/>
<path d="M372.9 305.1V319.1" stroke="#ef5350" stroke-width="1.15"/>
<rect x="371.67" y="311.2" width="2.5" height="4.4" fill="#ef5350"/>
<path d="M376.2 312.1V324.3" stroke="#ef5350" stroke-width="1.15"/>
<rect x="374.91" y="312.9" width="2.5" height="8.8" fill="#ef5350"/>
<path d="M379.4 319.1V330.4" stroke="#ef5350" stroke-width="1.15"/>
<rect x="378.15" y="321.7" width="2.5" height="4.4" fill="#ef5350"/>
<path d="M382.6 322.6V336.6" stroke="#ef5350" stroke-width="1.15"/>
<rect x="381.38" y="326.1" width="2.5" height="7.0" fill="#ef5350"/>
<path d="M385.9 327.8V342.7" stroke="#26a69a" stroke-width="1.15"/>
<rect x="384.62" y="329.6" width="2.5" height="3.9" fill="#26a69a"/>
<path d="M389.1 326.1V336.6" stroke="#26a69a" stroke-width="1.15"/>
<rect x="387.86" y="330.4" width="2.5" height="1.8" fill="#26a69a"/>
<path d="M392.3 285.8V331.3" stroke="#26a69a" stroke-width="1.15"/>
<rect x="391.09" y="286.7" width="2.5" height="43.8" fill="#26a69a"/>
<path d="M395.6 270.0V294.5" stroke="#26a69a" stroke-width="1.15"/>
<rect x="394.33" y="284.9" width="2.5" height="2.6" fill="#26a69a"/>
<path d="M398.8 255.1V287.5" stroke="#26a69a" stroke-width="1.15"/>
<rect x="397.57" y="257.8" width="2.5" height="28.0" fill="#26a69a"/>
<path d="M402.1 256.0V278.8" stroke="#ef5350" stroke-width="1.15"/>
<rect x="400.80" y="258.6" width="2.5" height="4.4" fill="#ef5350"/>
<path d="M405.3 244.6V284.9" stroke="#ef5350" stroke-width="1.15"/>
<rect x="404.04" y="262.1" width="2.5" height="8.8" fill="#ef5350"/>
<path d="M408.5 248.1V284.9" stroke="#26a69a" stroke-width="1.15"/>
<rect x="407.28" y="256.9" width="2.5" height="14.0" fill="#26a69a"/>
<path d="M411.8 254.3V272.7" stroke="#ef5350" stroke-width="1.15"/>
<rect x="410.51" y="256.9" width="2.5" height="7.9" fill="#ef5350"/>
<path d="M415.0 261.3V291.9" stroke="#ef5350" stroke-width="1.15"/>
<rect x="413.75" y="263.9" width="2.5" height="21.9" fill="#ef5350"/>
<path d="M418.2 274.4V292.8" stroke="#ef5350" stroke-width="1.15"/>
<rect x="416.99" y="284.9" width="2.5" height="6.1" fill="#ef5350"/>
<path d="M421.5 289.3V304.2" stroke="#ef5350" stroke-width="1.15"/>
<rect x="420.22" y="290.2" width="2.5" height="9.6" fill="#ef5350"/>
<path d="M424.7 277.0V307.7" stroke="#26a69a" stroke-width="1.15"/>
<rect x="423.46" y="287.5" width="2.5" height="12.3" fill="#26a69a"/>
<path d="M427.9 284.9V308.6" stroke="#ef5350" stroke-width="1.15"/>
<rect x="426.69" y="287.5" width="2.5" height="3.5" fill="#ef5350"/>
<path d="M431.2 277.0V300.7" stroke="#ef5350" stroke-width="1.15"/>
<rect x="429.93" y="290.2" width="2.5" height="3.5" fill="#ef5350"/>
<path d="M434.4 275.3V295.4" stroke="#26a69a" stroke-width="1.15"/>
<rect x="433.17" y="283.2" width="2.5" height="10.5" fill="#26a69a"/>
<path d="M437.7 266.5V285.8" stroke="#26a69a" stroke-width="1.15"/>
<rect x="436.40" y="270.0" width="2.5" height="13.7" fill="#26a69a"/>
<path d="M440.9 261.3V296.3" stroke="#ef5350" stroke-width="1.15"/>
<rect x="439.64" y="270.0" width="2.5" height="25.4" fill="#ef5350"/>
<path d="M444.1 287.5V300.7" stroke="#ef5350" stroke-width="1.15"/>
<rect x="442.88" y="294.5" width="2.5" height="4.4" fill="#ef5350"/>
<path d="M447.4 293.7V308.6" stroke="#26a69a" stroke-width="1.15"/>
<rect x="446.11" y="295.4" width="2.5" height="3.5" fill="#26a69a"/>
<path d="M450.6 285.8V298.9" stroke="#26a69a" stroke-width="1.15"/>
<rect x="449.35" y="294.5" width="2.5" height="1.8" fill="#26a69a"/>
<path d="M453.8 281.9V302.4" stroke="#26a69a" stroke-width="1.15"/>
<rect x="452.59" y="286.7" width="2.5" height="8.8" fill="#26a69a"/>
<path d="M457.1 282.3V298.9" stroke="#ef5350" stroke-width="1.15"/>
<rect x="455.82" y="286.7" width="2.5" height="7.0" fill="#ef5350"/>
<path d="M460.3 280.9V305.9" stroke="#ef5350" stroke-width="1.15"/>
<rect x="459.06" y="291.9" width="2.5" height="13.1" fill="#ef5350"/>
<path d="M463.5 303.3V331.3" stroke="#ef5350" stroke-width="1.15"/>
<rect x="462.30" y="304.2" width="2.5" height="25.4" fill="#ef5350"/>
<path d="M466.8 321.7V338.3" stroke="#26a69a" stroke-width="1.15"/>
<rect x="465.53" y="325.2" width="2.5" height="3.5" fill="#26a69a"/>
<path d="M470.0 323.4V334.8" stroke="#26a69a" stroke-width="1.15"/>
<rect x="468.77" y="324.8" width="2.5" height="2.1" fill="#26a69a"/>
<path d="M473.3 323.4V334.8" stroke="#26a69a" stroke-width="1.15"/>
<rect x="472.01" y="324.8" width="2.5" height="1.2" fill="#26a69a"/>
<path d="M476.5 317.3V326.9" stroke="#ef5350" stroke-width="1.15"/>
<rect x="475.24" y="324.3" width="2.5" height="1.8" fill="#ef5350"/>
<path d="M479.7 316.4V332.2" stroke="#ef5350" stroke-width="1.15"/>
<rect x="478.48" y="324.3" width="2.5" height="6.1" fill="#ef5350"/>
<path d="M483.0 325.2V354.1" stroke="#ef5350" stroke-width="1.15"/>
<rect x="481.72" y="328.7" width="2.5" height="21.0" fill="#ef5350"/>
<path d="M486.2 333.1V350.6" stroke="#26a69a" stroke-width="1.15"/>
<rect x="484.95" y="334.8" width="2.5" height="14.9" fill="#26a69a"/>
<path d="M489.4 325.2V336.6" stroke="#26a69a" stroke-width="1.15"/>
<rect x="488.19" y="330.4" width="2.5" height="5.3" fill="#26a69a"/>
<path d="M492.7 327.8V334.8" stroke="#ef5350" stroke-width="1.15"/>
<rect x="491.42" y="330.4" width="2.5" height="2.6" fill="#ef5350"/>
<path d="M495.9 318.2V334.8" stroke="#26a69a" stroke-width="1.15"/>
<rect x="494.66" y="319.1" width="2.5" height="13.1" fill="#26a69a"/>
<path d="M499.1 294.5V319.9" stroke="#26a69a" stroke-width="1.15"/>
<rect x="497.90" y="296.3" width="2.5" height="22.8" fill="#26a69a"/>
<path d="M502.4 291.9V309.4" stroke="#ef5350" stroke-width="1.15"/>
<rect x="501.13" y="296.3" width="2.5" height="11.4" fill="#ef5350"/>
<path d="M505.6 307.4V329.3" stroke="#ef5350" stroke-width="1.15"/>
<rect x="504.37" y="308.3" width="2.5" height="18.4" fill="#ef5350"/>
<path d="M508.9 325.8V351.2" stroke="#ef5350" stroke-width="1.15"/>
<rect x="507.61" y="326.7" width="2.5" height="12.3" fill="#ef5350"/>
<path d="M512.1 337.2V348.6" stroke="#ef5350" stroke-width="1.15"/>
<rect x="510.84" y="338.0" width="2.5" height="6.1" fill="#ef5350"/>
<path d="M515.3 338.9V345.9" stroke="#26a69a" stroke-width="1.15"/>
<rect x="514.08" y="340.7" width="2.5" height="3.5" fill="#26a69a"/>
<path d="M518.6 322.3V342.4" stroke="#26a69a" stroke-width="1.15"/>
<rect x="517.32" y="335.4" width="2.5" height="6.1" fill="#26a69a"/>
<path d="M521.8 330.2V350.3" stroke="#ef5350" stroke-width="1.15"/>
<rect x="520.55" y="335.4" width="2.5" height="11.4" fill="#ef5350"/>
<path d="M525.0 342.4V353.8" stroke="#26a69a" stroke-width="1.15"/>
<rect x="523.79" y="344.2" width="2.5" height="3.0" fill="#26a69a"/>
<path d="M528.3 338.9V348.6" stroke="#ef5350" stroke-width="1.15"/>
<rect x="527.03" y="344.2" width="2.5" height="2.6" fill="#ef5350"/>
<path d="M531.5 339.8V360.8" stroke="#ef5350" stroke-width="1.15"/>
<rect x="530.26" y="345.1" width="2.5" height="11.4" fill="#ef5350"/>
<path d="M534.7 351.2V373.1" stroke="#ef5350" stroke-width="1.15"/>
<rect x="533.50" y="356.4" width="2.5" height="10.5" fill="#ef5350"/>
<path d="M538.0 363.4V388.8" stroke="#ef5350" stroke-width="1.15"/>
<rect x="536.74" y="366.1" width="2.5" height="8.8" fill="#ef5350"/>
<path d="M541.2 346.8V379.2" stroke="#26a69a" stroke-width="1.15"/>
<rect x="539.97" y="350.3" width="2.5" height="24.5" fill="#26a69a"/>
<path d="M544.5 331.4V351.2" stroke="#26a69a" stroke-width="1.15"/>
<rect x="543.21" y="338.0" width="2.5" height="12.3" fill="#26a69a"/>
<path d="M547.7 335.4V348.6" stroke="#ef5350" stroke-width="1.15"/>
<rect x="546.45" y="338.0" width="2.5" height="6.1" fill="#ef5350"/>
<path d="M550.9 335.4V349.4" stroke="#ef5350" stroke-width="1.15"/>
<rect x="549.68" y="343.3" width="2.5" height="5.3" fill="#ef5350"/>
<path d="M554.2 343.3V352.1" stroke="#26a69a" stroke-width="1.15"/>
<rect x="552.92" y="345.1" width="2.5" height="3.5" fill="#26a69a"/>
<path d="M557.4 337.2V345.9" stroke="#26a69a" stroke-width="1.15"/>
<rect x="556.16" y="338.9" width="2.5" height="6.1" fill="#26a69a"/>
<path d="M560.6 328.1V341.5" stroke="#26a69a" stroke-width="1.15"/>
<rect x="559.39" y="331.0" width="2.5" height="8.4" fill="#26a69a"/>
<path d="M563.9 330.2V344.2" stroke="#ef5350" stroke-width="1.15"/>
<rect x="562.63" y="331.0" width="2.5" height="7.9" fill="#ef5350"/>
<path d="M567.1 336.3V351.2" stroke="#ef5350" stroke-width="1.15"/>
<rect x="565.86" y="338.9" width="2.5" height="10.5" fill="#ef5350"/>
<path d="M570.4 329.3V352.1" stroke="#26a69a" stroke-width="1.15"/>
<rect x="569.10" y="335.4" width="2.5" height="14.0" fill="#26a69a"/>
<path d="M573.6 324.9V340.7" stroke="#26a69a" stroke-width="1.15"/>
<rect x="572.34" y="331.9" width="2.5" height="3.5" fill="#26a69a"/>
<path d="M576.8 331.0V347.7" stroke="#ef5350" stroke-width="1.15"/>
<rect x="575.57" y="331.9" width="2.5" height="12.3" fill="#ef5350"/>
<path d="M580.1 340.7V346.8" stroke="#26a69a" stroke-width="1.15"/>
<rect x="578.81" y="341.5" width="2.5" height="2.6" fill="#26a69a"/>
<path d="M583.3 331.9V344.2" stroke="#26a69a" stroke-width="1.15"/>
<rect x="582.05" y="338.0" width="2.5" height="4.4" fill="#26a69a"/>
<path d="M586.5 331.9V340.7" stroke="#ef5350" stroke-width="1.15"/>
<rect x="585.28" y="337.2" width="2.5" height="1.8" fill="#ef5350"/>
<path d="M589.8 325.8V342.4" stroke="#26a69a" stroke-width="1.15"/>
<rect x="588.52" y="326.7" width="2.5" height="11.4" fill="#26a69a"/>
<path d="M593.0 317.9V329.3" stroke="#26a69a" stroke-width="1.15"/>
<rect x="591.76" y="320.5" width="2.5" height="6.1" fill="#26a69a"/>
<path d="M596.2 297.8V323.2" stroke="#26a69a" stroke-width="1.15"/>
<rect x="594.99" y="300.9" width="2.5" height="20.0" fill="#26a69a"/>
<path d="M599.5 287.3V304.8" stroke="#26a69a" stroke-width="1.15"/>
<rect x="598.23" y="299.5" width="2.5" height="1.8" fill="#26a69a"/>
<path d="M602.7 296.0V311.8" stroke="#ef5350" stroke-width="1.15"/>
<rect x="601.47" y="300.4" width="2.5" height="4.4" fill="#ef5350"/>
<path d="M606.0 286.4V305.6" stroke="#26a69a" stroke-width="1.15"/>
<rect x="604.70" y="291.6" width="2.5" height="12.3" fill="#26a69a"/>
<path d="M609.2 275.2V298.8" stroke="#26a69a" stroke-width="1.15"/>
<rect x="607.94" y="290.1" width="2.5" height="2.6" fill="#26a69a"/>
<path d="M612.4 280.4V302.3" stroke="#26a69a" stroke-width="1.15"/>
<rect x="611.18" y="282.2" width="2.5" height="8.8" fill="#26a69a"/>
<path d="M615.7 264.7V289.2" stroke="#26a69a" stroke-width="1.15"/>
<rect x="614.41" y="271.7" width="2.5" height="11.4" fill="#26a69a"/>
<path d="M618.9 241.9V272.6" stroke="#26a69a" stroke-width="1.15"/>
<rect x="617.65" y="244.5" width="2.5" height="27.1" fill="#26a69a"/>
<path d="M622.1 220.9V257.7" stroke="#ef5350" stroke-width="1.15"/>
<rect x="620.88" y="244.5" width="2.5" height="4.4" fill="#ef5350"/>
<path d="M625.4 234.0V253.3" stroke="#26a69a" stroke-width="1.15"/>
<rect x="624.12" y="235.8" width="2.5" height="13.1" fill="#26a69a"/>
<path d="M628.6 204.3V237.5" stroke="#26a69a" stroke-width="1.15"/>
<rect x="627.36" y="218.3" width="2.5" height="18.4" fill="#26a69a"/>
<path d="M631.8 198.1V223.5" stroke="#26a69a" stroke-width="1.15"/>
<rect x="630.59" y="214.8" width="2.5" height="4.4" fill="#26a69a"/>
<path d="M635.1 204.3V231.4" stroke="#26a69a" stroke-width="1.15"/>
<rect x="633.83" y="211.3" width="2.5" height="3.5" fill="#26a69a"/>
<path d="M638.3 209.5V254.2" stroke="#ef5350" stroke-width="1.15"/>
<rect x="637.07" y="211.3" width="2.5" height="29.8" fill="#ef5350"/>
<path d="M641.6 230.5V261.2" stroke="#ef5350" stroke-width="1.15"/>
<rect x="640.30" y="241.0" width="2.5" height="6.1" fill="#ef5350"/>
<path d="M644.8 234.9V259.4" stroke="#26a69a" stroke-width="1.15"/>
<rect x="643.54" y="239.3" width="2.5" height="7.9" fill="#26a69a"/>
<path d="M648.0 231.4V241.0" stroke="#26a69a" stroke-width="1.15"/>
<rect x="646.78" y="235.8" width="2.5" height="3.5" fill="#26a69a"/>
<path d="M651.3 218.3V237.5" stroke="#26a69a" stroke-width="1.15"/>
<rect x="650.01" y="219.2" width="2.5" height="17.5" fill="#26a69a"/>
<path d="M654.5 212.1V244.5" stroke="#ef5350" stroke-width="1.15"/>
<rect x="653.25" y="219.2" width="2.5" height="23.6" fill="#ef5350"/>
<path d="M657.7 231.4V254.2" stroke="#ef5350" stroke-width="1.15"/>
<rect x="656.49" y="241.9" width="2.5" height="7.0" fill="#ef5350"/>
<path d="M661.0 245.4V269.1" stroke="#ef5350" stroke-width="1.15"/>
<rect x="659.72" y="248.0" width="2.5" height="3.5" fill="#ef5350"/>
<path d="M664.2 240.2V268.2" stroke="#ef5350" stroke-width="1.15"/>
<rect x="662.96" y="250.7" width="2.5" height="16.6" fill="#ef5350"/>
<path d="M667.4 264.7V291.0" stroke="#ef5350" stroke-width="1.15"/>
<rect x="666.20" y="265.6" width="2.5" height="19.3" fill="#ef5350"/>
<path d="M670.7 280.4V296.2" stroke="#ef5350" stroke-width="1.15"/>
<rect x="669.43" y="283.9" width="2.5" height="10.5" fill="#ef5350"/>
<path d="M673.9 277.8V296.2" stroke="#26a69a" stroke-width="1.15"/>
<rect x="672.67" y="279.6" width="2.5" height="14.0" fill="#26a69a"/>
<path d="M677.2 261.2V279.6" stroke="#26a69a" stroke-width="1.15"/>
<rect x="675.91" y="262.9" width="2.5" height="15.8" fill="#26a69a"/>
<path d="M680.4 262.9V283.1" stroke="#ef5350" stroke-width="1.15"/>
<rect x="679.14" y="263.5" width="2.5" height="15.2" fill="#ef5350"/>
<path d="M683.6 271.7V284.8" stroke="#26a69a" stroke-width="1.15"/>
<rect x="682.38" y="272.6" width="2.5" height="5.3" fill="#26a69a"/>
<path d="M686.9 234.0V273.4" stroke="#26a69a" stroke-width="1.15"/>
<rect x="685.62" y="234.9" width="2.5" height="37.7" fill="#26a69a"/>
<path d="M690.1 204.1V242.6" stroke="#26a69a" stroke-width="1.15"/>
<rect x="688.85" y="205.8" width="2.5" height="29.8" fill="#26a69a"/>
<path d="M693.3 162.0V207.6" stroke="#26a69a" stroke-width="1.15"/>
<rect x="692.09" y="163.8" width="2.5" height="42.9" fill="#26a69a"/>
<path d="M696.6 148.9V180.4" stroke="#26a69a" stroke-width="1.15"/>
<rect x="695.32" y="162.0" width="2.5" height="1.8" fill="#26a69a"/>
<path d="M699.8 150.6V186.5" stroke="#ef5350" stroke-width="1.15"/>
<rect x="698.56" y="161.2" width="2.5" height="21.0" fill="#ef5350"/>
<path d="M703.0 117.5V183.0" stroke="#26a69a" stroke-width="1.15"/>
<rect x="701.80" y="130.5" width="2.5" height="51.7" fill="#26a69a"/>
<path d="M706.3 107.0V137.5" stroke="#26a69a" stroke-width="1.15"/>
<rect x="705.03" y="122.6" width="2.5" height="8.8" fill="#26a69a"/>
<path d="M709.5 116.7V172.5" stroke="#ef5350" stroke-width="1.15"/>
<rect x="708.27" y="122.6" width="2.5" height="31.5" fill="#ef5350"/>
<path d="M712.8 141.9V175.2" stroke="#ef5350" stroke-width="1.15"/>
<rect x="711.51" y="154.2" width="2.5" height="14.9" fill="#ef5350"/>
<path d="M716.0 143.6V176.0" stroke="#26a69a" stroke-width="1.15"/>
<rect x="714.74" y="150.6" width="2.5" height="18.4" fill="#26a69a"/>
<path d="M719.2 74.6V155.0" stroke="#26a69a" stroke-width="1.15"/>
<rect x="717.98" y="89.5" width="2.5" height="61.1" fill="#26a69a"/>
<path d="M722.5 65.9V115.8" stroke="#26a69a" stroke-width="1.15"/>
<rect x="721.22" y="86.0" width="2.5" height="3.5" fill="#26a69a"/>
<path d="M725.7 85.1V135.1" stroke="#ef5350" stroke-width="1.15"/>
<rect x="724.45" y="86.0" width="2.5" height="46.4" fill="#ef5350"/>
<path d="M728.9 64.1V135.9" stroke="#26a69a" stroke-width="1.15"/>
<rect x="727.69" y="72.9" width="2.5" height="59.5" fill="#26a69a"/>
<path d="M732.2 69.4V109.7" stroke="#ef5350" stroke-width="1.15"/>
<rect x="730.93" y="72.9" width="2.5" height="34.2" fill="#ef5350"/>
<path d="M735.4 44.0V120.2" stroke="#26a69a" stroke-width="1.15"/>
<rect x="734.16" y="65.0" width="2.5" height="42.0" fill="#26a69a"/>
<path d="M738.6 64.1V91.3" stroke="#ef5350" stroke-width="1.15"/>
<rect x="737.40" y="65.0" width="2.5" height="11.4" fill="#ef5350"/>
<path d="M741.9 70.3V97.4" stroke="#ef5350" stroke-width="1.15"/>
<rect x="740.64" y="76.4" width="2.5" height="9.6" fill="#ef5350"/>
<path d="M745.1 72.0V140.1" stroke="#ef5350" stroke-width="1.15"/>
<rect x="743.87" y="86.0" width="2.5" height="48.9" fill="#ef5350"/>
<path d="M748.4 107.0V144.5" stroke="#26a69a" stroke-width="1.15"/>
<rect x="747.11" y="114.0" width="2.5" height="20.8" fill="#26a69a"/>
<path d="M751.6 108.8V128.8" stroke="#ef5350" stroke-width="1.15"/>
<rect x="750.35" y="114.0" width="2.5" height="12.3" fill="#ef5350"/>
<path d="M754.8 81.3V127.0" stroke="#26a69a" stroke-width="1.15"/>
<rect x="753.58" y="98.3" width="2.5" height="28.0" fill="#26a69a"/>
<path d="M758.1 97.4V139.3" stroke="#ef5350" stroke-width="1.15"/>
<rect x="756.82" y="98.3" width="2.5" height="34.9" fill="#ef5350"/>
<path d="M761.3 130.5V145.4" stroke="#26a69a" stroke-width="1.15"/>
<rect x="760.05" y="131.4" width="2.5" height="3.5" fill="#26a69a"/>
<path d="M764.5 120.9V142.8" stroke="#ef5350" stroke-width="1.15"/>
<rect x="763.29" y="132.3" width="2.5" height="6.1" fill="#ef5350"/>
<path d="M767.8 125.4V161.2" stroke="#ef5350" stroke-width="1.15"/>
<rect x="766.53" y="137.5" width="2.5" height="15.8" fill="#ef5350"/>
<path d="M771.0 130.5V155.9" stroke="#26a69a" stroke-width="1.15"/>
<rect x="769.76" y="133.1" width="2.5" height="20.1" fill="#26a69a"/>
<path d="M774.3 123.5V138.4" stroke="#26a69a" stroke-width="1.15"/>
<rect x="773.00" y="128.8" width="2.5" height="5.3" fill="#26a69a"/>
<path d="M777.5 122.8V159.4" stroke="#ef5350" stroke-width="1.15"/>
<rect x="776.24" y="128.8" width="2.5" height="28.0" fill="#ef5350"/>
<path d="M780.7 137.5V162.0" stroke="#ef5350" stroke-width="1.15"/>
<rect x="779.47" y="155.9" width="2.5" height="1.2" fill="#ef5350"/>
<path d="M784.0 152.4V165.2" stroke="#ef5350" stroke-width="1.15"/>
<rect x="782.71" y="156.8" width="2.5" height="2.6" fill="#ef5350"/>
<path d="M787.2 149.8V160.3" stroke="#26a69a" stroke-width="1.15"/>
<rect x="785.95" y="154.2" width="2.5" height="5.3" fill="#26a69a"/>
<path d="M790.4 135.8V159.4" stroke="#26a69a" stroke-width="1.15"/>
<rect x="789.18" y="141.9" width="2.5" height="12.3" fill="#26a69a"/>
<path d="M793.7 125.3V145.4" stroke="#26a69a" stroke-width="1.15"/>
<rect x="792.42" y="130.5" width="2.5" height="12.3" fill="#26a69a"/>
<path d="M796.9 124.4V144.5" stroke="#26a69a" stroke-width="1.15"/>
<rect x="795.66" y="130.2" width="2.5" height="1.4" fill="#26a69a"/>
<path d="M800.1 111.4V142.1" stroke="#26a69a" stroke-width="1.15"/>
<rect x="798.89" y="112.3" width="2.5" height="19.3" fill="#26a69a"/>
<path d="M803.4 94.8V117.5" stroke="#26a69a" stroke-width="1.15"/>
<rect x="802.13" y="99.2" width="2.5" height="14.0" fill="#26a69a"/>
<path d="M806.6 89.5V112.3" stroke="#ef5350" stroke-width="1.15"/>
<rect x="805.37" y="99.2" width="2.5" height="4.4" fill="#ef5350"/>
<path d="M809.9 101.8V125.4" stroke="#ef5350" stroke-width="1.15"/>
<rect x="808.60" y="103.5" width="2.5" height="17.5" fill="#ef5350"/>
<path d="M813.1 114.0V142.8" stroke="#ef5350" stroke-width="1.15"/>
<rect x="811.84" y="120.2" width="2.5" height="12.1" fill="#ef5350"/>
<path d="M816.3 127.0V141.0" stroke="#ef5350" stroke-width="1.15"/>
<rect x="815.08" y="131.4" width="2.5" height="2.6" fill="#ef5350"/>
<path d="M819.6 116.7V147.1" stroke="#26a69a" stroke-width="1.15"/>
<rect x="818.31" y="121.8" width="2.5" height="11.4" fill="#26a69a"/>
<path d="M822.8 107.0V131.6" stroke="#26a69a" stroke-width="1.15"/>
<rect x="821.55" y="108.8" width="2.5" height="14.0" fill="#26a69a"/>
<path d="M826.0 104.4V136.6" stroke="#ef5350" stroke-width="1.15"/>
<rect x="824.78" y="108.8" width="2.5" height="25.2" fill="#ef5350"/>
<path d="M829.3 127.9V141.0" stroke="#ef5350" stroke-width="1.15"/>
<rect x="828.02" y="133.1" width="2.5" height="3.5" fill="#ef5350"/>
<path d="M832.5 131.4V146.3" stroke="#ef5350" stroke-width="1.15"/>
<rect x="831.26" y="135.8" width="2.5" height="9.6" fill="#ef5350"/>
<path d="M835.7 138.4V198.8" stroke="#ef5350" stroke-width="1.15"/>
<rect x="834.49" y="143.6" width="2.5" height="27.1" fill="#ef5350"/>
<path d="M839.0 162.0V179.5" stroke="#ef5350" stroke-width="1.15"/>
<rect x="837.73" y="169.9" width="2.5" height="3.5" fill="#ef5350"/>
<path d="M842.2 164.7V182.2" stroke="#26a69a" stroke-width="1.15"/>
<rect x="840.97" y="170.8" width="2.5" height="2.6" fill="#26a69a"/>
<path d="M845.5 169.9V206.7" stroke="#ef5350" stroke-width="1.15"/>
<rect x="844.20" y="171.7" width="2.5" height="29.8" fill="#ef5350"/>
<path d="M848.7 178.7V204.9" stroke="#26a69a" stroke-width="1.15"/>
<rect x="847.44" y="182.2" width="2.5" height="19.3" fill="#26a69a"/>
<path d="M851.9 179.5V188.3" stroke="#ef5350" stroke-width="1.15"/>
<rect x="850.68" y="181.3" width="2.5" height="4.4" fill="#ef5350"/>
<path d="M855.2 168.7V195.8" stroke="#26a69a" stroke-width="1.15"/>
<rect x="853.91" y="169.5" width="2.5" height="16.1" fill="#26a69a"/>
<path d="M858.4 164.3V184.4" stroke="#26a69a" stroke-width="1.15"/>
<rect x="857.15" y="167.8" width="2.5" height="2.6" fill="#26a69a"/>
<path d="M861.6 166.0V183.6" stroke="#ef5350" stroke-width="1.15"/>
<rect x="860.39" y="168.7" width="2.5" height="9.6" fill="#ef5350"/>
<path d="M864.9 149.4V182.7" stroke="#26a69a" stroke-width="1.15"/>
<rect x="863.62" y="151.2" width="2.5" height="26.8" fill="#26a69a"/>
<path d="M868.1 139.8V164.3" stroke="#26a69a" stroke-width="1.15"/>
<rect x="866.86" y="146.8" width="2.5" height="5.3" fill="#26a69a"/>
<path d="M871.3 140.6V160.8" stroke="#ef5350" stroke-width="1.15"/>
<rect x="870.10" y="146.8" width="2.5" height="7.0" fill="#ef5350"/>
<path d="M874.6 149.4V167.8" stroke="#ef5350" stroke-width="1.15"/>
<rect x="873.33" y="152.9" width="2.5" height="9.6" fill="#ef5350"/>
<path d="M877.8 144.2V165.2" stroke="#ef5350" stroke-width="1.15"/>
<rect x="876.57" y="158.2" width="2.5" height="5.3" fill="#ef5350"/>
<path d="M881.1 131.0V173.9" stroke="#26a69a" stroke-width="1.15"/>
<rect x="879.81" y="135.4" width="2.5" height="28.0" fill="#26a69a"/>
<path d="M884.3 127.5V168.7" stroke="#ef5350" stroke-width="1.15"/>
<rect x="883.04" y="135.4" width="2.5" height="32.4" fill="#ef5350"/>
<path d="M887.5 149.4V170.4" stroke="#26a69a" stroke-width="1.15"/>
<rect x="886.28" y="150.3" width="2.5" height="17.5" fill="#26a69a"/>
<path d="M890.8 149.4V176.5" stroke="#ef5350" stroke-width="1.15"/>
<rect x="889.51" y="150.3" width="2.5" height="13.1" fill="#ef5350"/>
<path d="M894.0 146.8V450.1" stroke="#ef5350" stroke-width="1.15"/>
<rect x="892.75" y="162.5" width="2.5" height="96.1" fill="#ef5350"/>
<path d="M897.2 224.5V272.7" stroke="#ef5350" stroke-width="1.15"/>
<rect x="895.99" y="258.7" width="2.5" height="2.6" fill="#ef5350"/>
<path d="M900.5 215.8V270.9" stroke="#26a69a" stroke-width="1.15"/>
<rect x="899.22" y="224.5" width="2.5" height="36.8" fill="#26a69a"/>
<path d="M903.7 199.3V228.9" stroke="#26a69a" stroke-width="1.15"/>
<rect x="902.46" y="207.0" width="2.5" height="17.5" fill="#26a69a"/>
<path d="M906.9 202.6V242.9" stroke="#ef5350" stroke-width="1.15"/>
<rect x="905.70" y="207.0" width="2.5" height="14.9" fill="#ef5350"/>
<path d="M910.2 219.3V249.0" stroke="#ef5350" stroke-width="1.15"/>
<rect x="908.93" y="221.9" width="2.5" height="21.9" fill="#ef5350"/>
<path d="M913.4 231.5V262.2" stroke="#ef5350" stroke-width="1.15"/>
<rect x="912.17" y="243.8" width="2.5" height="13.1" fill="#ef5350"/>
<path d="M916.7 250.8V291.1" stroke="#ef5350" stroke-width="1.15"/>
<rect x="915.41" y="256.9" width="2.5" height="15.8" fill="#ef5350"/>
<path d="M919.9 264.8V274.4" stroke="#26a69a" stroke-width="1.15"/>
<rect x="918.64" y="269.2" width="2.5" height="3.5" fill="#26a69a"/>
<path d="M923.1 251.7V274.4" stroke="#26a69a" stroke-width="1.15"/>
<rect x="921.88" y="259.5" width="2.5" height="10.5" fill="#26a69a"/>
<path d="M926.4 220.1V266.5" stroke="#26a69a" stroke-width="1.15"/>
<rect x="925.12" y="231.5" width="2.5" height="28.0" fill="#26a69a"/>
<path d="M929.6 225.4V254.3" stroke="#ef5350" stroke-width="1.15"/>
<rect x="928.35" y="231.5" width="2.5" height="21.0" fill="#ef5350"/>
<path d="M932.8 249.0V270.9" stroke="#ef5350" stroke-width="1.15"/>
<rect x="931.59" y="252.5" width="2.5" height="8.8" fill="#ef5350"/>
<path d="M936.1 250.8V263.0" stroke="#26a69a" stroke-width="1.15"/>
<rect x="934.83" y="256.0" width="2.5" height="5.3" fill="#26a69a"/>
<path d="M939.3 242.0V257.8" stroke="#26a69a" stroke-width="1.15"/>
<rect x="938.06" y="246.4" width="2.5" height="10.0" fill="#26a69a"/>
<path d="M942.5 239.4V249.9" stroke="#26a69a" stroke-width="1.15"/>
<rect x="941.30" y="243.8" width="2.5" height="3.2" fill="#26a69a"/>
<path d="M945.8 230.6V250.8" stroke="#26a69a" stroke-width="1.15"/>
<rect x="944.54" y="234.2" width="2.5" height="10.5" fill="#26a69a"/>
<path d="M949.0 222.8V242.9" stroke="#ef5350" stroke-width="1.15"/>
<rect x="947.77" y="233.3" width="2.5" height="7.0" fill="#ef5350"/>
<path d="M952.3 228.0V256.0" stroke="#ef5350" stroke-width="1.15"/>
<rect x="951.01" y="240.3" width="2.5" height="7.9" fill="#ef5350"/>
<path d="M955.5 230.6V253.4" stroke="#26a69a" stroke-width="1.15"/>
<rect x="954.24" y="242.0" width="2.5" height="6.1" fill="#26a69a"/>
<path d="M958.7 235.9V278.8" stroke="#ef5350" stroke-width="1.15"/>
<rect x="957.48" y="241.2" width="2.5" height="28.0" fill="#ef5350"/>
<path d="M962.0 256.0V270.1" stroke="#26a69a" stroke-width="1.15"/>
<rect x="960.72" y="260.4" width="2.5" height="8.8" fill="#26a69a"/>
<path d="M965.2 258.7V263.9" stroke="#ef5350" stroke-width="1.15"/>
<rect x="963.95" y="260.4" width="2.5" height="2.3" fill="#ef5350"/>
<path d="M968.4 251.7V264.8" stroke="#26a69a" stroke-width="1.15"/>
<rect x="967.19" y="253.4" width="2.5" height="8.8" fill="#26a69a"/>
<path d="M971.7 252.5V314.7" stroke="#ef5350" stroke-width="1.15"/>
<rect x="970.43" y="253.4" width="2.5" height="48.2" fill="#ef5350"/>
<path d="M974.9 295.4V332.2" stroke="#ef5350" stroke-width="1.15"/>
<rect x="973.66" y="301.6" width="2.5" height="10.5" fill="#ef5350"/>
<path d="M978.1 303.3V326.1" stroke="#26a69a" stroke-width="1.15"/>
<rect x="976.90" y="309.5" width="2.5" height="2.6" fill="#26a69a"/>
</g>
<path d="M20.1 61.5H1084" stroke="#0000ff" stroke-width="3" stroke-dasharray="12.9 15.2"/>
<path d="M641.1 296.9H1084" stroke="#0000ff" stroke-width="3" stroke-dasharray="12.9 15.2"/>
<path d="M181.5 389.1H1084" stroke="#0000ff" stroke-width="3" stroke-dasharray="12.9 15.2"/>
<path d="M734.4 44L1019.9 201.9" stroke="#23458a" stroke-width="2.4" stroke-linecap="round"/>
<path d="M875.2 78.2H950.1a6 6 0 0 1 6 6V101.4a6 6 0 0 1-6 6H920L901.7 133.2L905.2 107.4H875.2a6 6 0 0 1-6-6V84.2a6 6 0 0 1 6-6Z" fill="#fff" stroke="#b0484e" stroke-width="1.4" stroke-linejoin="round"/>
<text x="878.6" y="96.3" font-size="11" fill="#a3303a" text-anchor="start" textLength="68.3" lengthAdjust="spacingAndGlyphs" stroke="#a3303a" stroke-width="0.35">Resistance line</text>
<path d="M611.2 514.2 L615.1 505.9 L617.8 492.0 L621.2 496.6 L624.7 491.4 L628.0 485.0 L631.9 483.1 L634.4 481.8 L635.7 502.0 L635.7 514.2 L611.2 514.2Z" fill="url(#ob)"/>
<path d="M4.8 570.7C6.0 571.1 9.2 572.2 11.6 572.7C14.0 573.1 16.7 573.7 19.3 573.4C21.9 573.2 24.5 571.9 27.0 571.1C29.6 570.3 32.2 569.4 34.8 568.6C37.3 567.8 40.2 567.7 42.5 566.3C44.7 564.9 46.0 562.8 48.3 560.5C50.5 558.3 53.8 554.9 56.0 552.8C58.3 550.7 60.0 549.1 61.8 547.9C63.6 546.8 64.9 546.3 66.6 546.0C68.4 545.7 70.3 545.7 72.4 546.0C74.5 546.3 76.8 546.7 79.2 547.9C81.6 549.2 84.7 551.3 86.9 553.7C89.2 556.2 90.5 559.4 92.7 562.4C95.0 565.5 98.0 569.2 100.4 572.1C102.9 575.0 105.0 577.9 107.2 579.8C109.5 581.8 111.7 582.3 114.0 583.7C116.2 585.1 118.5 586.9 120.7 588.1C123.0 589.3 125.1 590.3 127.5 590.8C129.9 591.4 132.6 591.5 135.2 591.4C137.8 591.3 140.2 590.8 142.9 590.4C145.7 590.1 148.7 589.0 151.6 589.5C154.5 590.0 157.6 591.8 160.3 593.3C163.1 594.9 166.1 597.4 168.1 598.6C170.0 599.7 170.0 600.2 171.9 600.5C173.8 600.8 177.2 600.9 179.6 600.5C182.1 600.0 184.1 598.6 186.4 597.8C188.7 597.0 190.7 596.3 193.2 595.9C195.6 595.4 198.3 595.9 200.9 595.3C203.5 594.7 207.1 593.0 208.6 592.4C210.1 591.7 208.5 592.3 210.0 591.4C211.5 590.5 214.8 587.9 217.7 587.0C220.6 586.0 223.8 585.9 227.4 585.6C230.9 585.3 235.4 586.0 239.0 585.0C242.5 584.1 245.6 582.0 248.6 579.8C251.7 577.7 254.4 573.5 257.3 572.1C260.2 570.7 263.3 571.5 266.0 571.5C268.8 571.5 270.8 571.4 273.7 572.1C276.6 572.8 280.5 574.3 283.4 576.0C286.3 577.6 288.9 579.8 291.1 581.8C293.4 583.7 295.0 586.4 296.9 587.5C298.9 588.7 300.5 589.0 302.7 588.9C305.0 588.8 307.9 587.5 310.4 587.0C313.0 586.5 315.3 586.6 318.2 586.0C321.1 585.4 324.6 585.1 327.8 583.1C331.0 581.1 334.3 577.5 337.5 574.0C340.7 570.6 343.9 565.7 347.1 562.4C350.4 559.2 353.6 557.1 356.8 554.7C360.0 552.3 363.6 549.8 366.5 547.9C369.4 546.1 371.6 544.2 374.2 543.7C376.8 543.2 379.3 544.1 381.9 545.1C384.5 546.0 387.4 548.8 389.6 549.3C391.9 549.8 393.5 548.8 395.4 547.9C397.4 547.1 399.3 545.1 401.2 544.1C403.2 543.1 405.3 542.9 407.0 542.2C408.8 541.4 409.6 539.9 411.9 539.6C414.1 539.4 418.1 540.8 420.5 540.6C423.0 540.4 424.6 539.0 426.8 538.3C428.9 537.6 431.4 536.2 433.5 536.4C435.6 536.5 437.4 537.5 439.3 539.3C441.2 541.0 442.9 544.6 445.1 547.0C447.4 549.4 450.3 551.8 452.8 553.7C455.4 555.7 458.0 556.8 460.6 558.6C463.1 560.3 465.7 562.3 468.3 564.4C470.9 566.5 473.4 568.7 476.0 571.1C478.6 573.5 481.2 576.9 483.7 578.9C486.3 580.8 488.6 582.1 491.5 582.7C494.4 583.3 497.6 582.6 501.1 582.3C504.7 582.1 509.2 581.7 512.7 581.4C516.3 581.0 519.8 580.7 522.4 580.2C525.0 579.7 526.2 578.5 528.2 578.5C530.1 578.4 531.9 579.0 534.0 579.8C536.1 580.6 538.3 582.3 540.7 583.3C543.1 584.3 546.0 585.6 548.5 585.6C550.9 585.7 552.8 584.6 555.2 583.7C557.6 582.7 560.4 580.9 562.9 579.8C565.5 578.7 568.1 578.2 570.7 576.9C573.2 575.6 576.1 573.7 578.4 572.1C580.6 570.5 582.3 568.6 584.2 567.3C586.1 566.0 587.7 566.0 590.0 564.4C592.2 562.8 596.0 559.1 597.7 557.6C599.4 556.1 598.3 556.7 600.0 555.2C601.7 553.6 605.2 551.1 607.7 548.4C610.3 545.7 612.9 542.6 615.5 538.7C618.0 534.9 620.6 529.6 623.2 525.2C625.8 520.9 629.0 515.5 630.9 512.7C632.8 509.8 633.2 509.1 634.8 508.2C636.4 507.4 638.6 507.6 640.6 507.5C642.5 507.3 644.7 507.6 646.4 507.5C648.0 507.3 649.0 506.1 650.6 506.5C652.2 506.9 654.1 508.3 656.0 509.8C657.9 511.3 659.9 513.0 661.8 515.6C663.7 518.1 665.5 521.5 667.6 525.2C669.7 528.9 672.4 534.1 674.4 537.8C676.3 541.5 677.4 545.0 679.2 547.4C681.0 549.9 683.1 551.5 685.0 552.3C686.9 553.1 688.5 552.7 690.8 552.3C693.0 551.8 696.1 550.7 698.5 549.4C700.9 548.1 703.0 546.3 705.3 544.5C707.5 542.8 709.8 541.0 712.0 538.7C714.3 536.5 716.5 533.4 718.8 531.0C721.0 528.6 723.6 526.0 725.6 524.3C727.5 522.5 728.8 521.0 730.4 520.4C732.0 519.7 733.4 519.9 735.2 520.4C737.0 520.9 739.1 522.0 741.0 523.3C742.9 524.6 744.9 526.5 746.8 528.1C748.7 529.7 750.3 531.3 752.6 532.9C754.9 534.6 757.7 535.7 760.3 537.8C762.9 539.9 765.2 543.1 768.1 545.5C770.9 547.9 774.8 550.1 777.7 552.3C780.6 554.4 782.9 557.1 785.4 558.4C788.0 559.8 790.7 559.7 793.2 560.4C795.6 561.0 797.6 562.7 800.0 562.4C802.4 562.1 805.2 559.4 807.7 558.6C810.3 557.7 812.9 557.7 815.5 557.2C818.0 556.7 820.9 556.0 823.2 555.7C825.4 555.3 827.0 554.8 829.0 555.1C830.9 555.4 832.8 556.4 834.8 557.6C836.7 558.8 838.6 560.5 840.6 562.4C842.5 564.4 844.4 567.4 846.4 569.2C848.3 571.0 850.2 572.4 852.2 573.4C854.1 574.5 855.7 574.7 857.9 575.4C860.2 576.0 863.1 576.9 865.7 577.3C868.3 577.7 871.5 577.9 873.4 577.9C875.3 577.9 875.7 578.0 877.3 577.3C878.9 576.6 881.1 574.6 883.1 573.4C885.0 572.3 886.6 570.2 888.9 570.2C891.1 570.1 894.0 572.4 896.6 573.1C899.2 573.7 901.7 573.0 904.3 574.0C906.9 575.1 909.5 577.5 912.0 579.2C914.6 581.0 917.2 583.0 919.8 584.6C922.3 586.3 925.1 587.7 927.5 588.9C929.9 590.1 932.0 592.1 934.2 592.0C936.5 591.9 938.6 589.1 941.0 588.1C943.4 587.1 946.2 586.6 948.7 586.0C951.3 585.4 953.9 585.4 956.5 584.6C959.0 583.9 962.3 582.4 964.2 581.8C966.1 581.1 966.6 580.6 968.1 580.8C969.5 581.0 971.3 582.5 972.9 583.1C974.4 583.7 976.6 584.4 977.3 584.6" fill="none" stroke="#f7d458" stroke-width="1.2" stroke-linejoin="round" stroke-linecap="round"/>
<path d="M4.8 583.7 L7.3 588.5 L10.6 582.3 L13.5 582.3 L17.4 586.6 L20.3 590.1 L23.2 578.9 L26.7 558.6 L29.4 547.0 L32.5 534.4 L36.3 544.5 L39.6 542.2 L42.9 536.4 L45.6 525.7 L49.3 541.2 L52.5 538.3 L56.4 545.1 L58.9 547.0 L61.8 547.6 L65.1 554.7 L68.6 573.1 L72.4 560.5 L77.3 547.9 L80.7 567.3 L84.6 589.5 L87.9 577.9 L90.8 589.5 L94.6 595.3 L98.5 599.1 L103.3 598.6 L106.6 600.1 L110.1 592.4 L113.6 593.3 L116.5 586.6 L120.1 591.4 L123.0 580.4 L126.5 583.7 L130.4 586.6 L133.3 580.8 L136.8 593.3 L139.5 592.4 L142.9 587.5 L146.2 596.2 L149.7 590.4 L153.0 591.4 L155.5 613.6 L160.3 612.3 L164.2 613.6 L168.1 616.5 L170.9 617.5 L172.9 600.1 L175.2 569.2 L178.7 597.2 L182.0 592.4 L185.0 576.9 L187.8 566.9 L191.2 577.9 L194.1 582.7 L198.0 594.3 L201.5 603.0 L204.8 595.9 L207.6 592.4 L210.0 595.9 L213.5 588.5 L217.3 583.1 L220.0 588.5 L223.1 579.2 L227.0 580.4 L230.3 566.3 L234.1 575.4 L237.0 577.9 L240.9 573.1 L243.8 570.2 L246.7 561.5 L249.2 556.6 L252.5 559.2 L255.8 556.1 L259.3 575.0 L262.2 581.8 L265.1 585.0 L268.5 583.7 L271.8 573.4 L275.7 588.9 L279.2 588.9 L281.9 588.1 L284.9 590.1 L288.2 608.2 L291.5 604.9 L295.0 610.7 L297.9 576.9 L300.8 583.7 L304.6 573.1 L307.9 566.7 L311.4 573.4 L314.3 574.0 L317.8 579.8 L321.5 577.3 L324.9 573.4 L327.8 573.1 L330.7 565.3 L333.6 558.6 L336.9 561.9 L339.8 546.0 L343.3 530.2 L346.2 529.6 L350.0 532.9 L352.9 534.4 L356.4 542.2 L359.7 534.8 L362.6 546.0 L366.1 552.8 L369.4 544.1 L372.8 547.0 L376.1 557.6 L379.0 566.3 L382.3 571.1 L385.8 566.7 L388.7 566.7 L392.2 525.7 L395.0 523.8 L398.3 508.0 L401.2 512.8 L405.1 523.2 L408.4 515.5 L411.3 525.7 L414.4 547.0 L417.6 552.8 L420.9 561.1 L423.9 551.8 L430.0 555.3 L433.9 546.0 L437.4 536.7 L440.9 563.0 L443.6 565.7 L447.0 561.9 L449.9 561.9 L453.8 554.7 L457.7 564.4 L460.2 576.0 L462.9 592.4 L466.4 590.8 L469.8 588.5 L476.0 587.2 L479.9 595.3 L482.8 608.2 L485.7 591.4 L488.6 582.7 L492.4 584.1 L495.3 567.3 L498.8 546.0 L502.1 558.6 L505.0 575.0 L507.9 582.7 L511.8 587.9 L515.0 584.6 L518.1 578.9 L520.4 588.1 L524.3 585.2 L527.2 586.0 L530.5 595.3 L534.0 603.0 L536.9 608.8 L540.7 577.9 L543.6 566.7 L547.5 571.1 L551.4 575.0 L555.2 567.3 L560.0 558.0 L563.9 567.3 L566.8 575.0 L569.1 561.1 L573.0 558.0 L576.8 569.2 L580.3 566.9 L583.6 561.9 L586.1 563.0 L589.0 549.9 L592.5 543.1 L595.8 525.7 L600.0 526.2 L601.9 530.1 L604.8 522.3 L607.7 520.4 L611.2 515.6 L615.1 505.9 L617.8 492.0 L621.2 496.6 L624.7 491.4 L628.0 485.0 L631.9 483.1 L634.4 481.8 L635.7 502.0 L637.7 525.2 L641.0 531.4 L644.0 527.2 L646.9 524.8 L649.8 514.6 L652.2 529.1 L654.1 540.7 L657.6 546.9 L660.8 548.8 L663.7 563.9 L666.6 577.4 L669.9 584.7 L673.4 570.6 L676.7 558.4 L679.6 569.6 L682.7 565.8 L686.0 541.6 L688.9 527.2 L692.3 509.8 L695.2 508.8 L698.9 524.8 L702.0 507.5 L705.3 505.5 L708.2 521.4 L711.6 535.8 L714.9 528.1 L718.4 510.7 L721.7 510.3 L725.2 536.4 L727.5 520.4 L731.4 535.3 L734.6 525.2 L738.1 529.1 L741.6 534.5 L743.9 555.2 L746.8 549.4 L750.7 553.2 L754.1 544.5 L757.4 558.1 L760.3 558.4 L763.8 561.0 L767.1 565.8 L770.9 558.1 L773.8 556.5 L776.2 568.7 L779.6 569.1 L783.1 570.0 L786.4 566.8 L790.3 561.0 L795.1 554.2 L799.0 544.5 L800.0 542.2 L802.9 538.3 L805.8 541.2 L808.7 551.8 L811.6 559.5 L815.1 561.1 L818.4 555.7 L822.2 547.0 L825.1 563.0 L828.6 566.3 L831.9 572.1 L835.2 585.6 L838.2 587.5 L841.0 586.2 L844.4 602.0 L848.3 586.0 L851.2 587.2 L854.5 575.0 L857.9 576.0 L860.8 580.4 L863.7 564.4 L867.6 558.6 L870.5 563.0 L873.4 569.2 L877.3 569.6 L880.7 547.9 L883.6 571.1 L886.5 560.5 L889.8 569.2 L893.1 609.4 L896.6 610.1 L899.5 590.4 L902.8 578.9 L905.9 584.6 L909.1 592.4 L913.0 598.2 L916.3 602.6 L919.4 598.6 L922.1 593.3 L925.6 576.9 L929.0 585.6 L932.3 588.9 L935.2 584.6 L938.1 580.4 L942.0 577.9 L945.3 571.1 L948.3 574.6 L951.2 579.2 L954.5 575.0 L958.0 589.9 L960.7 583.7 L964.2 582.7 L967.5 577.3 L970.9 601.1 L974.4 605.9 L977.7 604.0" fill="none" stroke="#7e57c2" stroke-width="2.4" stroke-linejoin="round" stroke-linecap="round" />
<path d="M630.9 479.2L997.3 578.8" stroke="#23458a" stroke-width="2.6" stroke-linecap="round"/>
<g transform="translate(978,463)"><circle r="8.4" fill="none" stroke="#a436c1" stroke-width="1.5"/><path d="M1.6 -5.2L-3.2 0.9H-0.3L-1.6 5.2L3.2 -0.9H0.3Z" fill="#a436c1"/><circle cx="5.9" cy="-5.8" r="3.1" fill="#fff"/><circle cx="5.9" cy="-5.8" r="2.2" fill="#f23645"/></g>
<rect x="4.5" y="20.5" width="1135" height="629" fill="none" stroke="#e4e6eb" stroke-width="1"/>
<path d="M1083.5 20.5V649.5" stroke="#e4e6eb" stroke-width="1"/>
<path d="M4.5 474H1139.5" stroke="#e4e6eb" stroke-width="1"/>
<path d="M4.5 626.3H1139.5" stroke="#e4e6eb" stroke-width="1"/>
<text x="4.2" y="14.2" font-size="10.25" fill="#131722" text-anchor="start" textLength="308.6" lengthAdjust="spacingAndGlyphs"  stroke="#131722" stroke-width="0.18">ranadagger created with TradingView.com, Nov 05, 2025 14:39 UTC</text>
<text x="11.4" y="37.0" font-size="10.3" fill="#131722" text-anchor="start" textLength="163.7" lengthAdjust="spacingAndGlyphs"  stroke="#131722" stroke-width="0.18">ChainLink / TetherUS · 1D · Binance</text>
<text x="182.1" y="37.0" font-size="10.3" fill="#131722" text-anchor="start"  stroke="#131722" stroke-width="0.18">O</text>
<text x="189.1" y="37.0" font-size="10.3" fill="#26a69a" text-anchor="start" textLength="24.6" lengthAdjust="spacingAndGlyphs"  stroke="#26a69a" stroke-width="0.18">14.69</text>
<text x="220.0" y="37.0" font-size="10.3" fill="#131722" text-anchor="start"  stroke="#131722" stroke-width="0.18">H</text>
<text x="227.0" y="37.0" font-size="10.3" fill="#26a69a" text-anchor="start" textLength="24.1" lengthAdjust="spacingAndGlyphs"  stroke="#26a69a" stroke-width="0.18">15.09</text>
<text x="258.1" y="37.0" font-size="10.3" fill="#131722" text-anchor="start"  stroke="#131722" stroke-width="0.18">L</text>
<text x="263.4" y="37.0" font-size="10.3" fill="#26a69a" text-anchor="start" textLength="24.5" lengthAdjust="spacingAndGlyphs"  stroke="#26a69a" stroke-width="0.18">13.98</text>
<text x="294.9" y="37.0" font-size="10.3" fill="#131722" text-anchor="start"  stroke="#131722" stroke-width="0.18">C</text>
<text x="301.9" y="37.0" font-size="10.3" fill="#26a69a" text-anchor="start" textLength="23.8" lengthAdjust="spacingAndGlyphs"  stroke="#26a69a" stroke-width="0.18">14.80</text>
<text x="332.7" y="37.0" font-size="10.3" fill="#26a69a" text-anchor="start" textLength="66.6" lengthAdjust="spacingAndGlyphs"  stroke="#26a69a" stroke-width="0.18">+0.12 (+0.82%)</text>
<text x="11.4" y="52.0" font-size="10.3" fill="#131722" text-anchor="start" textLength="69.5" lengthAdjust="spacingAndGlyphs"  stroke="#131722" stroke-width="0.18">EMA (20, close)</text>
<text x="88.1" y="52.0" font-size="10.3" fill="#2962ff" text-anchor="start" textLength="24.9" lengthAdjust="spacingAndGlyphs"  stroke="#2962ff" stroke-width="0.18">17.26</text>
<text x="11.4" y="66.4" font-size="10.3" fill="#131722" text-anchor="start" textLength="69.2" lengthAdjust="spacingAndGlyphs"  stroke="#131722" stroke-width="0.18">SMA (50, close)</text>
<text x="88.1" y="66.4" font-size="10.3" fill="#f23645" text-anchor="start" textLength="24.0" lengthAdjust="spacingAndGlyphs"  stroke="#f23645" stroke-width="0.18">19.67</text>
<text x="11.4" y="490.7" font-size="10.3" fill="#131722" text-anchor="start" textLength="64.8" lengthAdjust="spacingAndGlyphs"  stroke="#131722" stroke-width="0.18">RSI (14, close)</text>
<text x="82.7" y="490.7" font-size="10.3" fill="#7e57c2" text-anchor="start" textLength="24.5" lengthAdjust="spacingAndGlyphs"  stroke="#7e57c2" stroke-width="0.18">33.40</text>
<text x="113.8" y="490.7" font-size="10.3" fill="#f2c83c" text-anchor="start" textLength="25.4" lengthAdjust="spacingAndGlyphs"  stroke="#f2c83c" stroke-width="0.18">41.14</text>
<text x="1091.0" y="86.0" font-size="10.3" fill="#131722" text-anchor="start" textLength="25.0" lengthAdjust="spacingAndGlyphs"  stroke="#131722" stroke-width="0.18">26.00</text>
<text x="1091.0" y="126.7" font-size="10.3" fill="#131722" text-anchor="start" textLength="25.0" lengthAdjust="spacingAndGlyphs"  stroke="#131722" stroke-width="0.18">24.00</text>
<text x="1091.0" y="167.3" font-size="10.3" fill="#131722" text-anchor="start" textLength="25.0" lengthAdjust="spacingAndGlyphs"  stroke="#131722" stroke-width="0.18">22.00</text>
<text x="1091.0" y="208.0" font-size="10.3" fill="#131722" text-anchor="start" textLength="25.0" lengthAdjust="spacingAndGlyphs"  stroke="#131722" stroke-width="0.18">20.00</text>
<text x="1091.0" y="248.6" font-size="10.3" fill="#131722" text-anchor="start" textLength="25.0" lengthAdjust="spacingAndGlyphs"  stroke="#131722" stroke-width="0.18">18.00</text>
<text x="1091.0" y="289.3" font-size="10.3" fill="#131722" text-anchor="start" textLength="25.0" lengthAdjust="spacingAndGlyphs"  stroke="#131722" stroke-width="0.18">16.00</text>
<text x="1091.0" y="330.0" font-size="10.3" fill="#131722" text-anchor="start" textLength="25.0" lengthAdjust="spacingAndGlyphs"  stroke="#131722" stroke-width="0.18">14.00</text>
<text x="1091.0" y="370.6" font-size="10.3" fill="#131722" text-anchor="start" textLength="25.0" lengthAdjust="spacingAndGlyphs"  stroke="#131722" stroke-width="0.18">12.00</text>
<text x="1091.0" y="411.3" font-size="10.3" fill="#131722" text-anchor="start" textLength="25.0" lengthAdjust="spacingAndGlyphs"  stroke="#131722" stroke-width="0.18">10.00</text>
<text x="1091.0" y="451.9" font-size="10.3" fill="#131722" text-anchor="start" textLength="19.8" lengthAdjust="spacingAndGlyphs"  stroke="#131722" stroke-width="0.18">8.00</text>
<text x="1091.0" y="493.7" font-size="10.3" fill="#131722" text-anchor="start" textLength="25.0" lengthAdjust="spacingAndGlyphs"  stroke="#131722" stroke-width="0.18">80.00</text>
<text x="1091.0" y="542.7" font-size="10.3" fill="#131722" text-anchor="start" textLength="25.0" lengthAdjust="spacingAndGlyphs"  stroke="#131722" stroke-width="0.18">60.00</text>
<text x="1091.0" y="591.7" font-size="10.3" fill="#131722" text-anchor="start" textLength="25.0" lengthAdjust="spacingAndGlyphs"  stroke="#131722" stroke-width="0.18">40.00</text>
<text x="81.2" y="641.3" font-size="10.3" fill="#1e222d" text-anchor="middle" stroke="#1e222d" stroke-width="0.4">Feb</text>
<text x="171.6" y="641.3" font-size="10.3" fill="#1e222d" text-anchor="middle" stroke="#1e222d" stroke-width="0.4">Mar</text>
<text x="272.2" y="641.3" font-size="10.3" fill="#1e222d" text-anchor="middle" stroke="#1e222d" stroke-width="0.4">Apr</text>
<text x="369.1" y="641.3" font-size="10.3" fill="#1e222d" text-anchor="middle" stroke="#1e222d" stroke-width="0.4">May</text>
<text x="470.4" y="641.3" font-size="10.3" fill="#1e222d" text-anchor="middle" stroke="#1e222d" stroke-width="0.4">Jun</text>
<text x="567.6" y="641.3" font-size="10.3" fill="#1e222d" text-anchor="middle" stroke="#1e222d" stroke-width="0.4">Jul</text>
<text x="666.9" y="641.3" font-size="10.3" fill="#1e222d" text-anchor="middle" stroke="#1e222d" stroke-width="0.4">Aug</text>
<text x="767.1" y="641.3" font-size="10.3" fill="#1e222d" text-anchor="middle" stroke="#1e222d" stroke-width="0.4">Sep</text>
<text x="864.6" y="641.3" font-size="10.3" fill="#1e222d" text-anchor="middle" stroke="#1e222d" stroke-width="0.4">Oct</text>
<text x="965.0" y="641.3" font-size="10.3" fill="#1e222d" text-anchor="middle" stroke="#1e222d" stroke-width="0.4">Nov</text>
<text x="1061.4" y="641.3" font-size="10.3" fill="#1e222d" text-anchor="middle" stroke="#1e222d" stroke-width="0.4">Dec</text>
<rect x="1086.5" y="24.2" width="49.5" height="21.8" rx="4" fill="#fff" stroke="#e9ebf0" stroke-width="1"/>
<text x="1094.2" y="40.0" font-size="10.8" fill="#131722" text-anchor="start" textLength="23.6" lengthAdjust="spacingAndGlyphs"  stroke="#131722" stroke-width="0.18">USDT</text>
<path d="M1084.0 54.0H1119.0a2 2 0 0 1 2 2V66.7a2 2 0 0 1 -2 2H1084.0a0 0 0 0 1 -0 -0V54.0a0 0 0 0 1 0 -0Z" fill="#0000ff"/>
<text x="1091.0" y="64.8" font-size="10.8" fill="#fff" text-anchor="start" textLength="25.0" lengthAdjust="spacingAndGlyphs" stroke="#fff" stroke-width="0.2">27.00</text>
<path d="M1084.0 288.2H1119.0a2 2 0 0 1 2 2V300.9a2 2 0 0 1 -2 2H1084.0a0 0 0 0 1 -0 -0V288.2a0 0 0 0 1 0 -0Z" fill="#0000ff"/>
<text x="1091.0" y="299.0" font-size="10.8" fill="#fff" text-anchor="start" textLength="25.0" lengthAdjust="spacingAndGlyphs" stroke="#fff" stroke-width="0.2">15.43</text>
<path d="M1084.0 382.4H1119.0a2 2 0 0 1 2 2V394.6a2 2 0 0 1 -2 2H1084.0a0 0 0 0 1 -0 -0V382.4a0 0 0 0 1 0 -0Z" fill="#0000ff"/>
<text x="1091.0" y="393.0" font-size="10.8" fill="#fff" text-anchor="start" textLength="25.0" lengthAdjust="spacingAndGlyphs" stroke="#fff" stroke-width="0.2">10.94</text>
<path d="M1043.6 204.6H1083.5a0 0 0 0 1 0 0V218.8a0 0 0 0 1 -0 0H1043.6a3 3 0 0 1 -3 -3V207.6a3 3 0 0 1 3 -3Z" fill="#f23645"/>
<text x="1044.8" y="215.2" font-size="10.8" fill="#fff" text-anchor="start" textLength="35.0" lengthAdjust="spacingAndGlyphs" stroke="#fff" stroke-width="0.2">SMA:MA</text>
<path d="M1083.5 204.6H1119.0a2 2 0 0 1 2 2V216.8a2 2 0 0 1 -2 2H1083.5a0 0 0 0 1 -0 -0V204.6a0 0 0 0 1 0 -0Z" fill="#f23645"/>
<text x="1091.0" y="215.2" font-size="10.8" fill="#fff" text-anchor="start" textLength="25.0" lengthAdjust="spacingAndGlyphs" stroke="#fff" stroke-width="0.2">19.67</text>
<path d="M1083.5 204.6V218.8" stroke="#fff" stroke-opacity="0.3" stroke-width="1"/>
<path d="M1059.7 253.4H1083.5a0 0 0 0 1 0 0V268.0a0 0 0 0 1 -0 0H1059.7a3 3 0 0 1 -3 -3V256.4a3 3 0 0 1 3 -3Z" fill="#2962ff"/>
<text x="1061.0" y="264.2" font-size="10.8" fill="#fff" text-anchor="start" textLength="18.8" lengthAdjust="spacingAndGlyphs" stroke="#fff" stroke-width="0.2">EMA</text>
<path d="M1083.5 253.4H1119.0a2 2 0 0 1 2 2V266.0a2 2 0 0 1 -2 2H1083.5a0 0 0 0 1 -0 -0V253.4a0 0 0 0 1 0 -0Z" fill="#2962ff"/>
<text x="1091.0" y="264.2" font-size="10.8" fill="#fff" text-anchor="start" textLength="25.0" lengthAdjust="spacingAndGlyphs" stroke="#fff" stroke-width="0.2">17.26</text>
<path d="M1083.5 253.4V268.0" stroke="#fff" stroke-opacity="0.3" stroke-width="1"/>
<path d="M1019.0 578.4H1083.5a0 0 0 0 1 0 0V593.0a0 0 0 0 1 -0 0H1019.0a3 3 0 0 1 -3 -3V581.4a3 3 0 0 1 3 -3Z" fill="#fdd835"/>
<text x="1019.7" y="589.2" font-size="10.8" fill="#131722" text-anchor="start" textLength="60.1" lengthAdjust="spacingAndGlyphs" stroke="#131722" stroke-width="0.2">RSI-based MA</text>
<path d="M1083.5 578.4H1119.0a2 2 0 0 1 2 2V591.0a2 2 0 0 1 -2 2H1083.5a0 0 0 0 1 -0 -0V578.4a0 0 0 0 1 0 -0Z" fill="#fdd835"/>
<text x="1091.0" y="589.2" font-size="10.8" fill="#131722" text-anchor="start" textLength="25.0" lengthAdjust="spacingAndGlyphs" stroke="#131722" stroke-width="0.2">41.14</text>
<path d="M1083.5 578.4V593.0" stroke="#fff" stroke-opacity="0.3" stroke-width="1"/>
<path d="M1065.0 597.3H1083.5a0 0 0 0 1 0 0V611.8a0 0 0 0 1 -0 0H1065.0a3 3 0 0 1 -3 -3V600.3a3 3 0 0 1 3 -3Z" fill="#7e57c2"/>
<text x="1066.3" y="608.0" font-size="10.8" fill="#fff" text-anchor="start" textLength="13.5" lengthAdjust="spacingAndGlyphs" stroke="#fff" stroke-width="0.2">RSI</text>
<path d="M1083.5 597.3H1119.0a2 2 0 0 1 2 2V609.8a2 2 0 0 1 -2 2H1083.5a0 0 0 0 1 -0 -0V597.3a0 0 0 0 1 0 -0Z" fill="#7e57c2"/>
<text x="1091.0" y="608.0" font-size="10.8" fill="#fff" text-anchor="start" textLength="25.0" lengthAdjust="spacingAndGlyphs" stroke="#fff" stroke-width="0.2">33.40</text>
<path d="M1083.5 597.3V611.8" stroke="#fff" stroke-opacity="0.3" stroke-width="1"/>
<path d="M1035.0 303.0H1083.5a0 0 0 0 1 0 0V316.6a0 0 0 0 1 -0 0H1035.0a3 3 0 0 1 -3 -3V306.0a3 3 0 0 1 3 -3Z" fill="#26a69a"/>
<text x="1036.3" y="313.3" font-size="10.8" fill="#fff" text-anchor="start" textLength="42.9" lengthAdjust="spacingAndGlyphs" stroke="#fff" stroke-width="0.2">LINKUSDT</text>
<path d="M1083.5 302.5H1132.5a3 3 0 0 1 3 3V337.8a3 3 0 0 1 -3 3H1083.5a0 0 0 0 1 -0 -0V302.5a0 0 0 0 1 0 -0Z" fill="#26a69a"/>
<text x="0.0" y="325.1" font-size="10.8" fill="#fff" text-anchor="start" textLength="1.0" lengthAdjust="spacingAndGlyphs" stroke="#fff" stroke-width="0.2"></text>
<path d="M1083.5 303V316.6" stroke="#fff" stroke-opacity="0.3" stroke-width="1"/>
<text x="1091.0" y="313.8" font-size="10.3" fill="#fff" text-anchor="start" textLength="25.0" lengthAdjust="spacingAndGlyphs"  stroke="#fff" stroke-width="0.18">14.80</text>
<text x="1091.0" y="325.9" font-size="10.3" fill="#fff" text-anchor="start" textLength="36.5" lengthAdjust="spacingAndGlyphs"  stroke="#fff" stroke-width="0.18">−30.81%</text>
<text x="1091.0" y="337.8" font-size="10.3" fill="#fff" text-anchor="start" textLength="39.7" lengthAdjust="spacingAndGlyphs" fill-opacity="0.88" stroke="#fff" stroke-width="0.18">09:20:35</text>
<g fill="#17181c"><path d="M5.9 668.4H17.4V681H11.2V673.8H5.9Z"/><circle cx="21.2" cy="670.8" r="2.3"/><path d="M24.4 668.4H31.5L26.5 681H20.6Z"/></g>
<text x="37.8" y="681.0" font-size="17.4" fill="#17181c" text-anchor="start" textLength="102.6" lengthAdjust="spacingAndGlyphs" font-weight="bold" stroke="none">TradingView</text>
</svg>
</body></html>
